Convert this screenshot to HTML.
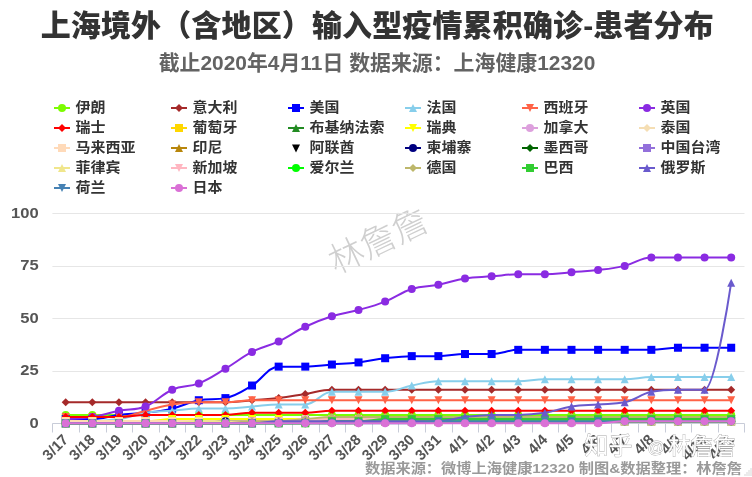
<!DOCTYPE html>
<html><head><meta charset="utf-8"><title>上海境外输入型疫情累积确诊-患者分布</title>
<style>
html,body{margin:0;padding:0;background:#fff;}
body{width:752px;height:477px;overflow:hidden;position:relative;font-family:"Liberation Sans", "Noto Sans CJK SC", sans-serif;}
svg{position:absolute;left:0;top:0;}
svg text{font-family:"Liberation Sans", "Noto Sans CJK SC", sans-serif;}
</style></head><body>
<svg width="752" height="477" viewBox="0 0 752 477">
<rect x="0" y="0" width="752" height="477" fill="#ffffff"/>

<text x="377.2" y="36" text-anchor="middle" font-size="30" font-weight="900" fill="#333333" textLength="673" lengthAdjust="spacing">上海境外（含地区）输入型疫情累积确诊-患者分布</text>
<text x="377" y="70" text-anchor="middle" font-size="20.9" font-weight="bold" fill="#636363">截止2020年4月11日 数据来源：上海健康12320</text>
<path d="M 54 108 L 70 108" stroke="#7CFC00" stroke-width="2"/>
<circle cx="62.00" cy="108.00" r="4" fill="#7CFC00"/>
<text transform="translate(75.6,112.3) scale(1.07,1)" font-size="14" font-weight="bold" fill="#333333">伊朗</text>
<path d="M 171 108 L 187 108" stroke="#A52A2A" stroke-width="2"/>
<path d="M 179.00 104.00 L 183.00 108.00 L 179.00 112.00 L 175.00 108.00 Z" fill="#A52A2A"/>
<text transform="translate(192.6,112.3) scale(1.07,1)" font-size="14" font-weight="bold" fill="#333333">意大利</text>
<path d="M 288 108 L 304 108" stroke="#0000FF" stroke-width="2"/>
<rect x="292.00" y="104.00" width="8" height="8" fill="#0000FF"/>
<text transform="translate(309.6,112.3) scale(1.07,1)" font-size="14" font-weight="bold" fill="#333333">美国</text>
<path d="M 405 108 L 421 108" stroke="#87CEEB" stroke-width="2"/>
<path d="M 413.00 104.00 L 417.00 112.00 L 409.00 112.00 Z" fill="#87CEEB"/>
<text transform="translate(426.6,112.3) scale(1.07,1)" font-size="14" font-weight="bold" fill="#333333">法国</text>
<path d="M 522 108 L 538 108" stroke="#FF6347" stroke-width="2"/>
<path d="M 526.00 104.00 L 534.00 104.00 L 530.00 112.00 Z" fill="#FF6347"/>
<text transform="translate(543.6,112.3) scale(1.07,1)" font-size="14" font-weight="bold" fill="#333333">西班牙</text>
<path d="M 639 108 L 655 108" stroke="#8A2BE2" stroke-width="2"/>
<circle cx="647.00" cy="108.00" r="4" fill="#8A2BE2"/>
<text transform="translate(660.6,112.3) scale(1.07,1)" font-size="14" font-weight="bold" fill="#333333">英国</text>
<path d="M 54 128 L 70 128" stroke="#FF0000" stroke-width="2"/>
<path d="M 62.00 124.00 L 66.00 128.00 L 62.00 132.00 L 58.00 128.00 Z" fill="#FF0000"/>
<text transform="translate(75.6,132.3) scale(1.07,1)" font-size="14" font-weight="bold" fill="#333333">瑞士</text>
<path d="M 171 128 L 187 128" stroke="#FFD700" stroke-width="2"/>
<rect x="175.00" y="124.00" width="8" height="8" fill="#FFD700"/>
<text transform="translate(192.6,132.3) scale(1.07,1)" font-size="14" font-weight="bold" fill="#333333">葡萄牙</text>
<path d="M 288 128 L 304 128" stroke="#228B22" stroke-width="2"/>
<path d="M 296.00 124.00 L 300.00 132.00 L 292.00 132.00 Z" fill="#228B22"/>
<text transform="translate(309.6,132.3) scale(1.07,1)" font-size="14" font-weight="bold" fill="#333333">布基纳法索</text>
<path d="M 405 128 L 421 128" stroke="#FFFF00" stroke-width="2"/>
<path d="M 409.00 124.00 L 417.00 124.00 L 413.00 132.00 Z" fill="#FFFF00"/>
<text transform="translate(426.6,132.3) scale(1.07,1)" font-size="14" font-weight="bold" fill="#333333">瑞典</text>
<path d="M 522 128 L 538 128" stroke="#DDA0DD" stroke-width="2"/>
<circle cx="530.00" cy="128.00" r="4" fill="#DDA0DD"/>
<text transform="translate(543.6,132.3) scale(1.07,1)" font-size="14" font-weight="bold" fill="#333333">加拿大</text>
<path d="M 639 128 L 655 128" stroke="#F5DEB3" stroke-width="2"/>
<path d="M 647.00 124.00 L 651.00 128.00 L 647.00 132.00 L 643.00 128.00 Z" fill="#F5DEB3"/>
<text transform="translate(660.6,132.3) scale(1.07,1)" font-size="14" font-weight="bold" fill="#333333">泰国</text>
<path d="M 54 148 L 70 148" stroke="#FFDAB9" stroke-width="2"/>
<rect x="58.00" y="144.00" width="8" height="8" fill="#FFDAB9"/>
<text transform="translate(75.6,152.3) scale(1.07,1)" font-size="14" font-weight="bold" fill="#333333">马来西亚</text>
<path d="M 171 148 L 187 148" stroke="#B8860B" stroke-width="2"/>
<path d="M 179.00 144.00 L 183.00 152.00 L 175.00 152.00 Z" fill="#B8860B"/>
<text transform="translate(192.6,152.3) scale(1.07,1)" font-size="14" font-weight="bold" fill="#333333">印尼</text>
<path d="M 292.00 144.50 L 300.00 144.50 L 296.00 152.50 Z" fill="#000000"/>
<text transform="translate(309.6,152.3) scale(1.07,1)" font-size="14" font-weight="bold" fill="#333333">阿联酋</text>
<path d="M 405 148 L 421 148" stroke="#000080" stroke-width="2"/>
<circle cx="413.00" cy="148.00" r="4" fill="#000080"/>
<text transform="translate(426.6,152.3) scale(1.07,1)" font-size="14" font-weight="bold" fill="#333333">柬埔寨</text>
<path d="M 522 148 L 538 148" stroke="#006400" stroke-width="2"/>
<path d="M 530.00 144.00 L 534.00 148.00 L 530.00 152.00 L 526.00 148.00 Z" fill="#006400"/>
<text transform="translate(543.6,152.3) scale(1.07,1)" font-size="14" font-weight="bold" fill="#333333">墨西哥</text>
<path d="M 639 148 L 655 148" stroke="#9370DB" stroke-width="2"/>
<rect x="643.00" y="144.00" width="8" height="8" fill="#9370DB"/>
<text transform="translate(660.6,152.3) scale(1.07,1)" font-size="14" font-weight="bold" fill="#333333">中国台湾</text>
<path d="M 54 168 L 70 168" stroke="#F0E68C" stroke-width="2"/>
<path d="M 62.00 164.00 L 66.00 172.00 L 58.00 172.00 Z" fill="#F0E68C"/>
<text transform="translate(75.6,172.3) scale(1.07,1)" font-size="14" font-weight="bold" fill="#333333">菲律宾</text>
<path d="M 171 168 L 187 168" stroke="#FFB6C1" stroke-width="2"/>
<path d="M 175.00 164.00 L 183.00 164.00 L 179.00 172.00 Z" fill="#FFB6C1"/>
<text transform="translate(192.6,172.3) scale(1.07,1)" font-size="14" font-weight="bold" fill="#333333">新加坡</text>
<path d="M 288 168 L 304 168" stroke="#00FF00" stroke-width="2"/>
<circle cx="296.00" cy="168.00" r="4" fill="#00FF00"/>
<text transform="translate(309.6,172.3) scale(1.07,1)" font-size="14" font-weight="bold" fill="#333333">爱尔兰</text>
<path d="M 405 168 L 421 168" stroke="#BDB76B" stroke-width="2"/>
<path d="M 413.00 164.00 L 417.00 168.00 L 413.00 172.00 L 409.00 168.00 Z" fill="#BDB76B"/>
<text transform="translate(426.6,172.3) scale(1.07,1)" font-size="14" font-weight="bold" fill="#333333">德国</text>
<path d="M 522 168 L 538 168" stroke="#32CD32" stroke-width="2"/>
<rect x="526.00" y="164.00" width="8" height="8" fill="#32CD32"/>
<text transform="translate(543.6,172.3) scale(1.07,1)" font-size="14" font-weight="bold" fill="#333333">巴西</text>
<path d="M 639 168 L 655 168" stroke="#6A5ACD" stroke-width="2"/>
<path d="M 647.00 164.00 L 651.00 172.00 L 643.00 172.00 Z" fill="#6A5ACD"/>
<text transform="translate(660.6,172.3) scale(1.07,1)" font-size="14" font-weight="bold" fill="#333333">俄罗斯</text>
<path d="M 54 188 L 70 188" stroke="#4682B4" stroke-width="2"/>
<path d="M 58.00 184.00 L 66.00 184.00 L 62.00 192.00 Z" fill="#4682B4"/>
<text transform="translate(75.6,192.3) scale(1.07,1)" font-size="14" font-weight="bold" fill="#333333">荷兰</text>
<path d="M 171 188 L 187 188" stroke="#DA70D6" stroke-width="2"/>
<circle cx="179.00" cy="188.00" r="4" fill="#DA70D6"/>
<text transform="translate(192.6,192.3) scale(1.07,1)" font-size="14" font-weight="bold" fill="#333333">日本</text>
<text x="0" y="0" font-size="35" font-weight="300" fill="#cfcfcf" transform="translate(336,274.5) rotate(-25.5)">林詹詹</text>
<path d="M 52.4 371.5 L 744.5 371.5" stroke="#e6e6e6" stroke-width="1"/>
<path d="M 52.4 318.5 L 744.5 318.5" stroke="#e6e6e6" stroke-width="1"/>
<path d="M 52.4 266.5 L 744.5 266.5" stroke="#e6e6e6" stroke-width="1"/>
<path d="M 52.4 213.5 L 744.5 213.5" stroke="#e6e6e6" stroke-width="1"/>
<text transform="translate(38.6,427.8) scale(1.09,1)" text-anchor="end" font-size="15.2" font-weight="bold" fill="#555555">0</text>
<text transform="translate(38.6,375.3) scale(1.09,1)" text-anchor="end" font-size="15.2" font-weight="bold" fill="#555555">25</text>
<text transform="translate(38.6,322.9) scale(1.09,1)" text-anchor="end" font-size="15.2" font-weight="bold" fill="#555555">50</text>
<text transform="translate(38.6,270.4) scale(1.09,1)" text-anchor="end" font-size="15.2" font-weight="bold" fill="#555555">75</text>
<text transform="translate(38.6,217.9) scale(1.09,1)" text-anchor="end" font-size="15.2" font-weight="bold" fill="#555555">100</text>
<path d="M 52.4 423.5 L 744.5 423.5" stroke="#c8ccd8" stroke-width="1"/>
<path d="M 52.5 423.5 L 52.5 432.5" stroke="#c8ccd8" stroke-width="1"/>
<path d="M 79.5 423.5 L 79.5 432.5" stroke="#c8ccd8" stroke-width="1"/>
<path d="M 106.5 423.5 L 106.5 432.5" stroke="#c8ccd8" stroke-width="1"/>
<path d="M 132.5 423.5 L 132.5 432.5" stroke="#c8ccd8" stroke-width="1"/>
<path d="M 159.5 423.5 L 159.5 432.5" stroke="#c8ccd8" stroke-width="1"/>
<path d="M 185.5 423.5 L 185.5 432.5" stroke="#c8ccd8" stroke-width="1"/>
<path d="M 212.5 423.5 L 212.5 432.5" stroke="#c8ccd8" stroke-width="1"/>
<path d="M 239.5 423.5 L 239.5 432.5" stroke="#c8ccd8" stroke-width="1"/>
<path d="M 265.5 423.5 L 265.5 432.5" stroke="#c8ccd8" stroke-width="1"/>
<path d="M 292.5 423.5 L 292.5 432.5" stroke="#c8ccd8" stroke-width="1"/>
<path d="M 319.5 423.5 L 319.5 432.5" stroke="#c8ccd8" stroke-width="1"/>
<path d="M 345.5 423.5 L 345.5 432.5" stroke="#c8ccd8" stroke-width="1"/>
<path d="M 372.5 423.5 L 372.5 432.5" stroke="#c8ccd8" stroke-width="1"/>
<path d="M 398.5 423.5 L 398.5 432.5" stroke="#c8ccd8" stroke-width="1"/>
<path d="M 425.5 423.5 L 425.5 432.5" stroke="#c8ccd8" stroke-width="1"/>
<path d="M 452.5 423.5 L 452.5 432.5" stroke="#c8ccd8" stroke-width="1"/>
<path d="M 478.5 423.5 L 478.5 432.5" stroke="#c8ccd8" stroke-width="1"/>
<path d="M 505.5 423.5 L 505.5 432.5" stroke="#c8ccd8" stroke-width="1"/>
<path d="M 532.5 423.5 L 532.5 432.5" stroke="#c8ccd8" stroke-width="1"/>
<path d="M 558.5 423.5 L 558.5 432.5" stroke="#c8ccd8" stroke-width="1"/>
<path d="M 585.5 423.5 L 585.5 432.5" stroke="#c8ccd8" stroke-width="1"/>
<path d="M 611.5 423.5 L 611.5 432.5" stroke="#c8ccd8" stroke-width="1"/>
<path d="M 638.5 423.5 L 638.5 432.5" stroke="#c8ccd8" stroke-width="1"/>
<path d="M 665.5 423.5 L 665.5 432.5" stroke="#c8ccd8" stroke-width="1"/>
<path d="M 691.5 423.5 L 691.5 432.5" stroke="#c8ccd8" stroke-width="1"/>
<path d="M 718.5 423.5 L 718.5 432.5" stroke="#c8ccd8" stroke-width="1"/>
<path d="M 744.5 423.5 L 744.5 432.5" stroke="#c8ccd8" stroke-width="1"/>
<text x="69.2" y="440.5" text-anchor="end" font-size="15" font-weight="bold" fill="#555555" transform="rotate(-45 69.2 440.5)">3/17</text>
<text x="95.8" y="440.5" text-anchor="end" font-size="15" font-weight="bold" fill="#555555" transform="rotate(-45 95.8 440.5)">3/18</text>
<text x="122.4" y="440.5" text-anchor="end" font-size="15" font-weight="bold" fill="#555555" transform="rotate(-45 122.4 440.5)">3/19</text>
<text x="149.1" y="440.5" text-anchor="end" font-size="15" font-weight="bold" fill="#555555" transform="rotate(-45 149.1 440.5)">3/20</text>
<text x="175.7" y="440.5" text-anchor="end" font-size="15" font-weight="bold" fill="#555555" transform="rotate(-45 175.7 440.5)">3/21</text>
<text x="202.3" y="440.5" text-anchor="end" font-size="15" font-weight="bold" fill="#555555" transform="rotate(-45 202.3 440.5)">3/22</text>
<text x="228.9" y="440.5" text-anchor="end" font-size="15" font-weight="bold" fill="#555555" transform="rotate(-45 228.9 440.5)">3/23</text>
<text x="255.5" y="440.5" text-anchor="end" font-size="15" font-weight="bold" fill="#555555" transform="rotate(-45 255.5 440.5)">3/24</text>
<text x="282.2" y="440.5" text-anchor="end" font-size="15" font-weight="bold" fill="#555555" transform="rotate(-45 282.2 440.5)">3/25</text>
<text x="308.8" y="440.5" text-anchor="end" font-size="15" font-weight="bold" fill="#555555" transform="rotate(-45 308.8 440.5)">3/26</text>
<text x="335.4" y="440.5" text-anchor="end" font-size="15" font-weight="bold" fill="#555555" transform="rotate(-45 335.4 440.5)">3/27</text>
<text x="362.0" y="440.5" text-anchor="end" font-size="15" font-weight="bold" fill="#555555" transform="rotate(-45 362.0 440.5)">3/28</text>
<text x="388.6" y="440.5" text-anchor="end" font-size="15" font-weight="bold" fill="#555555" transform="rotate(-45 388.6 440.5)">3/29</text>
<text x="415.3" y="440.5" text-anchor="end" font-size="15" font-weight="bold" fill="#555555" transform="rotate(-45 415.3 440.5)">3/30</text>
<text x="441.9" y="440.5" text-anchor="end" font-size="15" font-weight="bold" fill="#555555" transform="rotate(-45 441.9 440.5)">3/31</text>
<text x="468.5" y="440.5" text-anchor="end" font-size="15" font-weight="bold" fill="#555555" transform="rotate(-45 468.5 440.5)">4/1</text>
<text x="495.1" y="440.5" text-anchor="end" font-size="15" font-weight="bold" fill="#555555" transform="rotate(-45 495.1 440.5)">4/2</text>
<text x="521.7" y="440.5" text-anchor="end" font-size="15" font-weight="bold" fill="#555555" transform="rotate(-45 521.7 440.5)">4/3</text>
<text x="548.4" y="440.5" text-anchor="end" font-size="15" font-weight="bold" fill="#555555" transform="rotate(-45 548.4 440.5)">4/4</text>
<text x="575.0" y="440.5" text-anchor="end" font-size="15" font-weight="bold" fill="#555555" transform="rotate(-45 575.0 440.5)">4/5</text>
<text x="601.6" y="440.5" text-anchor="end" font-size="15" font-weight="bold" fill="#555555" transform="rotate(-45 601.6 440.5)">4/6</text>
<text x="628.2" y="440.5" text-anchor="end" font-size="15" font-weight="bold" fill="#555555" transform="rotate(-45 628.2 440.5)">4/7</text>
<text x="654.8" y="440.5" text-anchor="end" font-size="15" font-weight="bold" fill="#555555" transform="rotate(-45 654.8 440.5)">4/8</text>
<text x="681.5" y="440.5" text-anchor="end" font-size="15" font-weight="bold" fill="#555555" transform="rotate(-45 681.5 440.5)">4/9</text>
<text x="708.1" y="440.5" text-anchor="end" font-size="15" font-weight="bold" fill="#555555" transform="rotate(-45 708.1 440.5)">4/10</text>
<text x="734.7" y="440.5" text-anchor="end" font-size="15" font-weight="bold" fill="#555555" transform="rotate(-45 734.7 440.5)">4/11</text>
<g><path d="M 65.71 414.90 C 65.71 414.90 81.68 414.90 92.33 414.90 C 102.98 414.90 108.30 414.90 118.95 414.90 C 129.60 414.90 134.92 414.90 145.57 414.90 C 156.22 414.90 161.54 414.90 172.19 414.90 C 182.83 414.90 188.16 414.90 198.81 414.90 C 209.45 414.90 214.78 414.90 225.43 414.90 C 236.07 414.90 241.40 414.90 252.04 414.90 C 262.69 414.90 268.02 414.90 278.66 414.90 C 289.31 414.90 294.64 414.90 305.28 414.90 C 315.93 414.90 321.25 414.90 331.90 414.90 C 342.55 414.90 347.87 414.90 358.52 414.90 C 369.17 414.90 374.49 414.90 385.14 414.90 C 395.79 414.90 401.11 414.90 411.76 414.90 C 422.41 414.90 427.73 414.90 438.38 414.90 C 449.03 414.90 454.35 414.90 465.00 414.90 C 475.65 414.90 480.97 414.90 491.62 414.90 C 502.26 414.90 507.59 414.90 518.24 414.90 C 528.88 414.90 534.21 414.90 544.86 414.90 C 555.50 414.90 560.83 414.90 571.48 414.90 C 582.12 414.90 587.45 414.90 598.09 414.90 C 608.74 414.90 614.07 414.90 624.71 414.90 C 635.36 414.90 640.69 414.90 651.33 414.90 C 661.98 414.90 667.30 414.90 677.95 414.90 C 688.60 414.90 693.92 414.90 704.57 414.90 C 715.22 414.90 731.19 414.90 731.19 414.90" fill="none" stroke="#7CFC00" stroke-width="2" stroke-linejoin="round" stroke-linecap="round"/>
<circle cx="65.71" cy="414.90" r="4" fill="#7CFC00"/>
<circle cx="92.33" cy="414.90" r="4" fill="#7CFC00"/>
<circle cx="118.95" cy="414.90" r="4" fill="#7CFC00"/>
<circle cx="145.57" cy="414.90" r="4" fill="#7CFC00"/>
<circle cx="172.19" cy="414.90" r="4" fill="#7CFC00"/>
<circle cx="198.81" cy="414.90" r="4" fill="#7CFC00"/>
<circle cx="225.43" cy="414.90" r="4" fill="#7CFC00"/>
<circle cx="252.04" cy="414.90" r="4" fill="#7CFC00"/>
<circle cx="278.66" cy="414.90" r="4" fill="#7CFC00"/>
<circle cx="305.28" cy="414.90" r="4" fill="#7CFC00"/>
<circle cx="331.90" cy="414.90" r="4" fill="#7CFC00"/>
<circle cx="358.52" cy="414.90" r="4" fill="#7CFC00"/>
<circle cx="385.14" cy="414.90" r="4" fill="#7CFC00"/>
<circle cx="411.76" cy="414.90" r="4" fill="#7CFC00"/>
<circle cx="438.38" cy="414.90" r="4" fill="#7CFC00"/>
<circle cx="465.00" cy="414.90" r="4" fill="#7CFC00"/>
<circle cx="491.62" cy="414.90" r="4" fill="#7CFC00"/>
<circle cx="518.24" cy="414.90" r="4" fill="#7CFC00"/>
<circle cx="544.86" cy="414.90" r="4" fill="#7CFC00"/>
<circle cx="571.48" cy="414.90" r="4" fill="#7CFC00"/>
<circle cx="598.09" cy="414.90" r="4" fill="#7CFC00"/>
<circle cx="624.71" cy="414.90" r="4" fill="#7CFC00"/>
<circle cx="651.33" cy="414.90" r="4" fill="#7CFC00"/>
<circle cx="677.95" cy="414.90" r="4" fill="#7CFC00"/>
<circle cx="704.57" cy="414.90" r="4" fill="#7CFC00"/>
<circle cx="731.19" cy="414.90" r="4" fill="#7CFC00"/>
</g>
<g><path d="M 65.71 402.31 C 65.71 402.31 81.68 402.31 92.33 402.31 C 102.98 402.31 108.30 402.31 118.95 402.31 C 129.60 402.31 134.92 402.31 145.57 402.31 C 156.22 402.31 161.54 402.31 172.19 402.31 C 182.83 402.31 188.16 402.31 198.81 402.31 C 209.45 402.31 214.78 402.31 225.43 402.31 C 236.07 402.31 241.40 401.05 252.04 400.21 C 262.69 399.37 268.02 399.37 278.66 398.11 C 289.31 396.85 294.64 395.59 305.28 393.91 C 315.93 392.23 321.25 389.72 331.90 389.72 C 342.55 389.72 347.87 389.72 358.52 389.72 C 369.17 389.72 374.49 389.72 385.14 389.72 C 395.79 389.72 401.11 389.72 411.76 389.72 C 422.41 389.72 427.73 389.72 438.38 389.72 C 449.03 389.72 454.35 389.72 465.00 389.72 C 475.65 389.72 480.97 389.72 491.62 389.72 C 502.26 389.72 507.59 389.72 518.24 389.72 C 528.88 389.72 534.21 389.72 544.86 389.72 C 555.50 389.72 560.83 389.72 571.48 389.72 C 582.12 389.72 587.45 389.72 598.09 389.72 C 608.74 389.72 614.07 389.72 624.71 389.72 C 635.36 389.72 640.69 389.72 651.33 389.72 C 661.98 389.72 667.30 389.72 677.95 389.72 C 688.60 389.72 693.92 389.72 704.57 389.72 C 715.22 389.72 731.19 389.72 731.19 389.72" fill="none" stroke="#A52A2A" stroke-width="2" stroke-linejoin="round" stroke-linecap="round"/>
<path d="M 65.71 398.31 L 69.71 402.31 L 65.71 406.31 L 61.71 402.31 Z" fill="#A52A2A"/>
<path d="M 92.33 398.31 L 96.33 402.31 L 92.33 406.31 L 88.33 402.31 Z" fill="#A52A2A"/>
<path d="M 118.95 398.31 L 122.95 402.31 L 118.95 406.31 L 114.95 402.31 Z" fill="#A52A2A"/>
<path d="M 145.57 398.31 L 149.57 402.31 L 145.57 406.31 L 141.57 402.31 Z" fill="#A52A2A"/>
<path d="M 172.19 398.31 L 176.19 402.31 L 172.19 406.31 L 168.19 402.31 Z" fill="#A52A2A"/>
<path d="M 198.81 398.31 L 202.81 402.31 L 198.81 406.31 L 194.81 402.31 Z" fill="#A52A2A"/>
<path d="M 225.43 398.31 L 229.43 402.31 L 225.43 406.31 L 221.43 402.31 Z" fill="#A52A2A"/>
<path d="M 252.04 396.21 L 256.04 400.21 L 252.04 404.21 L 248.04 400.21 Z" fill="#A52A2A"/>
<path d="M 278.66 394.11 L 282.66 398.11 L 278.66 402.11 L 274.66 398.11 Z" fill="#A52A2A"/>
<path d="M 305.28 389.91 L 309.28 393.91 L 305.28 397.91 L 301.28 393.91 Z" fill="#A52A2A"/>
<path d="M 331.90 385.72 L 335.90 389.72 L 331.90 393.72 L 327.90 389.72 Z" fill="#A52A2A"/>
<path d="M 358.52 385.72 L 362.52 389.72 L 358.52 393.72 L 354.52 389.72 Z" fill="#A52A2A"/>
<path d="M 385.14 385.72 L 389.14 389.72 L 385.14 393.72 L 381.14 389.72 Z" fill="#A52A2A"/>
<path d="M 411.76 385.72 L 415.76 389.72 L 411.76 393.72 L 407.76 389.72 Z" fill="#A52A2A"/>
<path d="M 438.38 385.72 L 442.38 389.72 L 438.38 393.72 L 434.38 389.72 Z" fill="#A52A2A"/>
<path d="M 465.00 385.72 L 469.00 389.72 L 465.00 393.72 L 461.00 389.72 Z" fill="#A52A2A"/>
<path d="M 491.62 385.72 L 495.62 389.72 L 491.62 393.72 L 487.62 389.72 Z" fill="#A52A2A"/>
<path d="M 518.24 385.72 L 522.24 389.72 L 518.24 393.72 L 514.24 389.72 Z" fill="#A52A2A"/>
<path d="M 544.86 385.72 L 548.86 389.72 L 544.86 393.72 L 540.86 389.72 Z" fill="#A52A2A"/>
<path d="M 571.48 385.72 L 575.48 389.72 L 571.48 393.72 L 567.48 389.72 Z" fill="#A52A2A"/>
<path d="M 598.09 385.72 L 602.09 389.72 L 598.09 393.72 L 594.09 389.72 Z" fill="#A52A2A"/>
<path d="M 624.71 385.72 L 628.71 389.72 L 624.71 393.72 L 620.71 389.72 Z" fill="#A52A2A"/>
<path d="M 651.33 385.72 L 655.33 389.72 L 651.33 393.72 L 647.33 389.72 Z" fill="#A52A2A"/>
<path d="M 677.95 385.72 L 681.95 389.72 L 677.95 393.72 L 673.95 389.72 Z" fill="#A52A2A"/>
<path d="M 704.57 385.72 L 708.57 389.72 L 704.57 393.72 L 700.57 389.72 Z" fill="#A52A2A"/>
<path d="M 731.19 385.72 L 735.19 389.72 L 731.19 393.72 L 727.19 389.72 Z" fill="#A52A2A"/>
</g>
<g><path d="M 65.71 419.10 C 65.71 419.10 81.68 419.10 92.33 419.10 C 102.98 419.10 108.30 416.16 118.95 414.90 C 129.60 413.64 134.92 414.06 145.57 412.81 C 156.22 411.55 161.54 411.13 172.19 408.61 C 182.83 406.09 188.16 402.31 198.81 400.21 C 209.45 398.11 214.78 400.21 225.43 398.11 C 236.07 396.01 241.40 391.82 252.04 385.52 C 262.69 379.22 268.02 366.63 278.66 366.63 C 289.31 366.63 294.64 366.63 305.28 366.63 C 315.93 366.63 321.25 365.37 331.90 364.53 C 342.55 363.69 347.87 363.69 358.52 362.43 C 369.17 361.17 374.49 359.49 385.14 358.23 C 395.79 356.97 401.11 356.13 411.76 356.13 C 422.41 356.13 427.73 356.13 438.38 356.13 C 449.03 356.13 454.35 354.03 465.00 354.03 C 475.65 354.03 480.97 354.03 491.62 354.03 C 502.26 354.03 507.59 349.84 518.24 349.84 C 528.88 349.84 534.21 349.84 544.86 349.84 C 555.50 349.84 560.83 349.84 571.48 349.84 C 582.12 349.84 587.45 349.84 598.09 349.84 C 608.74 349.84 614.07 349.84 624.71 349.84 C 635.36 349.84 640.69 349.84 651.33 349.84 C 661.98 349.84 667.30 347.74 677.95 347.74 C 688.60 347.74 693.92 347.74 704.57 347.74 C 715.22 347.74 731.19 347.74 731.19 347.74" fill="none" stroke="#0000FF" stroke-width="2" stroke-linejoin="round" stroke-linecap="round"/>
<rect x="61.71" y="415.10" width="8" height="8" fill="#0000FF"/>
<rect x="88.33" y="415.10" width="8" height="8" fill="#0000FF"/>
<rect x="114.95" y="410.90" width="8" height="8" fill="#0000FF"/>
<rect x="141.57" y="408.81" width="8" height="8" fill="#0000FF"/>
<rect x="168.19" y="404.61" width="8" height="8" fill="#0000FF"/>
<rect x="194.81" y="396.21" width="8" height="8" fill="#0000FF"/>
<rect x="221.43" y="394.11" width="8" height="8" fill="#0000FF"/>
<rect x="248.04" y="381.52" width="8" height="8" fill="#0000FF"/>
<rect x="274.66" y="362.63" width="8" height="8" fill="#0000FF"/>
<rect x="301.28" y="362.63" width="8" height="8" fill="#0000FF"/>
<rect x="327.90" y="360.53" width="8" height="8" fill="#0000FF"/>
<rect x="354.52" y="358.43" width="8" height="8" fill="#0000FF"/>
<rect x="381.14" y="354.23" width="8" height="8" fill="#0000FF"/>
<rect x="407.76" y="352.13" width="8" height="8" fill="#0000FF"/>
<rect x="434.38" y="352.13" width="8" height="8" fill="#0000FF"/>
<rect x="461.00" y="350.03" width="8" height="8" fill="#0000FF"/>
<rect x="487.62" y="350.03" width="8" height="8" fill="#0000FF"/>
<rect x="514.24" y="345.84" width="8" height="8" fill="#0000FF"/>
<rect x="540.86" y="345.84" width="8" height="8" fill="#0000FF"/>
<rect x="567.48" y="345.84" width="8" height="8" fill="#0000FF"/>
<rect x="594.09" y="345.84" width="8" height="8" fill="#0000FF"/>
<rect x="620.71" y="345.84" width="8" height="8" fill="#0000FF"/>
<rect x="647.33" y="345.84" width="8" height="8" fill="#0000FF"/>
<rect x="673.95" y="343.74" width="8" height="8" fill="#0000FF"/>
<rect x="700.57" y="343.74" width="8" height="8" fill="#0000FF"/>
<rect x="727.19" y="343.74" width="8" height="8" fill="#0000FF"/>
</g>
<g><path d="M 65.71 421.20 C 65.71 421.20 81.68 421.20 92.33 421.20 C 102.98 421.20 108.30 420.78 118.95 419.10 C 129.60 417.42 134.92 414.48 145.57 412.81 C 156.22 411.13 161.54 411.55 172.19 410.71 C 182.83 409.87 188.16 408.61 198.81 408.61 C 209.45 408.61 214.78 408.61 225.43 408.61 C 236.07 408.61 241.40 407.35 252.04 406.51 C 262.69 405.67 268.02 404.41 278.66 404.41 C 289.31 404.41 294.64 404.41 305.28 404.41 C 315.93 404.41 321.25 391.81 331.90 391.81 C 342.55 391.81 347.87 391.81 358.52 391.81 C 369.17 391.81 374.49 391.81 385.14 391.81 C 395.79 391.81 401.11 387.62 411.76 385.52 C 422.41 383.42 427.73 381.32 438.38 381.32 C 449.03 381.32 454.35 381.32 465.00 381.32 C 475.65 381.32 480.97 381.32 491.62 381.32 C 502.26 381.32 507.59 381.32 518.24 381.32 C 528.88 381.32 534.21 379.22 544.86 379.22 C 555.50 379.22 560.83 379.22 571.48 379.22 C 582.12 379.22 587.45 379.22 598.09 379.22 C 608.74 379.22 614.07 379.22 624.71 379.22 C 635.36 379.22 640.69 377.12 651.33 377.12 C 661.98 377.12 667.30 377.12 677.95 377.12 C 688.60 377.12 693.92 377.12 704.57 377.12 C 715.22 377.12 731.19 377.12 731.19 377.12" fill="none" stroke="#87CEEB" stroke-width="2" stroke-linejoin="round" stroke-linecap="round"/>
<path d="M 65.71 417.20 L 69.71 425.20 L 61.71 425.20 Z" fill="#87CEEB"/>
<path d="M 92.33 417.20 L 96.33 425.20 L 88.33 425.20 Z" fill="#87CEEB"/>
<path d="M 118.95 415.10 L 122.95 423.10 L 114.95 423.10 Z" fill="#87CEEB"/>
<path d="M 145.57 408.81 L 149.57 416.81 L 141.57 416.81 Z" fill="#87CEEB"/>
<path d="M 172.19 406.71 L 176.19 414.71 L 168.19 414.71 Z" fill="#87CEEB"/>
<path d="M 198.81 404.61 L 202.81 412.61 L 194.81 412.61 Z" fill="#87CEEB"/>
<path d="M 225.43 404.61 L 229.43 412.61 L 221.43 412.61 Z" fill="#87CEEB"/>
<path d="M 252.04 402.51 L 256.04 410.51 L 248.04 410.51 Z" fill="#87CEEB"/>
<path d="M 278.66 400.41 L 282.66 408.41 L 274.66 408.41 Z" fill="#87CEEB"/>
<path d="M 305.28 400.41 L 309.28 408.41 L 301.28 408.41 Z" fill="#87CEEB"/>
<path d="M 331.90 387.81 L 335.90 395.81 L 327.90 395.81 Z" fill="#87CEEB"/>
<path d="M 358.52 387.81 L 362.52 395.81 L 354.52 395.81 Z" fill="#87CEEB"/>
<path d="M 385.14 387.81 L 389.14 395.81 L 381.14 395.81 Z" fill="#87CEEB"/>
<path d="M 411.76 381.52 L 415.76 389.52 L 407.76 389.52 Z" fill="#87CEEB"/>
<path d="M 438.38 377.32 L 442.38 385.32 L 434.38 385.32 Z" fill="#87CEEB"/>
<path d="M 465.00 377.32 L 469.00 385.32 L 461.00 385.32 Z" fill="#87CEEB"/>
<path d="M 491.62 377.32 L 495.62 385.32 L 487.62 385.32 Z" fill="#87CEEB"/>
<path d="M 518.24 377.32 L 522.24 385.32 L 514.24 385.32 Z" fill="#87CEEB"/>
<path d="M 544.86 375.22 L 548.86 383.22 L 540.86 383.22 Z" fill="#87CEEB"/>
<path d="M 571.48 375.22 L 575.48 383.22 L 567.48 383.22 Z" fill="#87CEEB"/>
<path d="M 598.09 375.22 L 602.09 383.22 L 594.09 383.22 Z" fill="#87CEEB"/>
<path d="M 624.71 375.22 L 628.71 383.22 L 620.71 383.22 Z" fill="#87CEEB"/>
<path d="M 651.33 373.12 L 655.33 381.12 L 647.33 381.12 Z" fill="#87CEEB"/>
<path d="M 677.95 373.12 L 681.95 381.12 L 673.95 381.12 Z" fill="#87CEEB"/>
<path d="M 704.57 373.12 L 708.57 381.12 L 700.57 381.12 Z" fill="#87CEEB"/>
<path d="M 731.19 373.12 L 735.19 381.12 L 727.19 381.12 Z" fill="#87CEEB"/>
</g>
<g><path d="M 65.71 417.00 C 65.71 417.00 81.68 417.00 92.33 417.00 C 102.98 417.00 108.30 417.00 118.95 417.00 C 129.60 417.00 134.92 413.22 145.57 410.71 C 156.22 408.19 161.54 406.09 172.19 404.41 C 182.83 402.73 188.16 402.31 198.81 402.31 C 209.45 402.31 214.78 402.31 225.43 402.31 C 236.07 402.31 241.40 400.21 252.04 400.21 C 262.69 400.21 268.02 400.21 278.66 400.21 C 289.31 400.21 294.64 400.21 305.28 400.21 C 315.93 400.21 321.25 400.21 331.90 400.21 C 342.55 400.21 347.87 400.21 358.52 400.21 C 369.17 400.21 374.49 400.21 385.14 400.21 C 395.79 400.21 401.11 400.21 411.76 400.21 C 422.41 400.21 427.73 400.21 438.38 400.21 C 449.03 400.21 454.35 400.21 465.00 400.21 C 475.65 400.21 480.97 400.21 491.62 400.21 C 502.26 400.21 507.59 400.21 518.24 400.21 C 528.88 400.21 534.21 400.21 544.86 400.21 C 555.50 400.21 560.83 400.21 571.48 400.21 C 582.12 400.21 587.45 400.21 598.09 400.21 C 608.74 400.21 614.07 400.21 624.71 400.21 C 635.36 400.21 640.69 400.21 651.33 400.21 C 661.98 400.21 667.30 400.21 677.95 400.21 C 688.60 400.21 693.92 400.21 704.57 400.21 C 715.22 400.21 731.19 400.21 731.19 400.21" fill="none" stroke="#FF6347" stroke-width="2" stroke-linejoin="round" stroke-linecap="round"/>
<path d="M 61.71 413.00 L 69.71 413.00 L 65.71 421.00 Z" fill="#FF6347"/>
<path d="M 88.33 413.00 L 96.33 413.00 L 92.33 421.00 Z" fill="#FF6347"/>
<path d="M 114.95 413.00 L 122.95 413.00 L 118.95 421.00 Z" fill="#FF6347"/>
<path d="M 141.57 406.71 L 149.57 406.71 L 145.57 414.71 Z" fill="#FF6347"/>
<path d="M 168.19 400.41 L 176.19 400.41 L 172.19 408.41 Z" fill="#FF6347"/>
<path d="M 194.81 398.31 L 202.81 398.31 L 198.81 406.31 Z" fill="#FF6347"/>
<path d="M 221.43 398.31 L 229.43 398.31 L 225.43 406.31 Z" fill="#FF6347"/>
<path d="M 248.04 396.21 L 256.04 396.21 L 252.04 404.21 Z" fill="#FF6347"/>
<path d="M 274.66 396.21 L 282.66 396.21 L 278.66 404.21 Z" fill="#FF6347"/>
<path d="M 301.28 396.21 L 309.28 396.21 L 305.28 404.21 Z" fill="#FF6347"/>
<path d="M 327.90 396.21 L 335.90 396.21 L 331.90 404.21 Z" fill="#FF6347"/>
<path d="M 354.52 396.21 L 362.52 396.21 L 358.52 404.21 Z" fill="#FF6347"/>
<path d="M 381.14 396.21 L 389.14 396.21 L 385.14 404.21 Z" fill="#FF6347"/>
<path d="M 407.76 396.21 L 415.76 396.21 L 411.76 404.21 Z" fill="#FF6347"/>
<path d="M 434.38 396.21 L 442.38 396.21 L 438.38 404.21 Z" fill="#FF6347"/>
<path d="M 461.00 396.21 L 469.00 396.21 L 465.00 404.21 Z" fill="#FF6347"/>
<path d="M 487.62 396.21 L 495.62 396.21 L 491.62 404.21 Z" fill="#FF6347"/>
<path d="M 514.24 396.21 L 522.24 396.21 L 518.24 404.21 Z" fill="#FF6347"/>
<path d="M 540.86 396.21 L 548.86 396.21 L 544.86 404.21 Z" fill="#FF6347"/>
<path d="M 567.48 396.21 L 575.48 396.21 L 571.48 404.21 Z" fill="#FF6347"/>
<path d="M 594.09 396.21 L 602.09 396.21 L 598.09 404.21 Z" fill="#FF6347"/>
<path d="M 620.71 396.21 L 628.71 396.21 L 624.71 404.21 Z" fill="#FF6347"/>
<path d="M 647.33 396.21 L 655.33 396.21 L 651.33 404.21 Z" fill="#FF6347"/>
<path d="M 673.95 396.21 L 681.95 396.21 L 677.95 404.21 Z" fill="#FF6347"/>
<path d="M 700.57 396.21 L 708.57 396.21 L 704.57 404.21 Z" fill="#FF6347"/>
<path d="M 727.19 396.21 L 735.19 396.21 L 731.19 404.21 Z" fill="#FF6347"/>
</g>
<g><path d="M 65.71 419.10 C 65.71 419.10 81.68 418.68 92.33 417.00 C 102.98 415.32 108.30 412.81 118.95 410.71 C 129.60 408.61 134.92 410.71 145.57 406.51 C 156.22 402.31 161.54 394.33 172.19 389.72 C 182.83 385.10 188.16 387.62 198.81 383.42 C 209.45 379.22 214.78 375.02 225.43 368.73 C 236.07 362.43 241.40 357.39 252.04 351.93 C 262.69 346.48 268.02 346.48 278.66 341.44 C 289.31 336.40 294.64 331.78 305.28 326.75 C 315.93 321.71 321.25 319.61 331.90 316.25 C 342.55 312.89 347.87 312.89 358.52 309.95 C 369.17 307.02 374.49 305.76 385.14 301.56 C 395.79 297.36 401.11 292.32 411.76 288.96 C 422.41 285.61 427.73 286.86 438.38 284.77 C 449.03 282.67 454.35 280.15 465.00 278.47 C 475.65 276.79 480.97 277.21 491.62 276.37 C 502.26 275.53 507.59 274.27 518.24 274.27 C 528.88 274.27 534.21 274.27 544.86 274.27 C 555.50 274.27 560.83 273.01 571.48 272.17 C 582.12 271.33 587.45 271.33 598.09 270.07 C 608.74 268.81 614.07 268.39 624.71 265.88 C 635.36 263.36 640.69 257.48 651.33 257.48 C 661.98 257.48 667.30 257.48 677.95 257.48 C 688.60 257.48 693.92 257.48 704.57 257.48 C 715.22 257.48 731.19 257.48 731.19 257.48" fill="none" stroke="#8A2BE2" stroke-width="2" stroke-linejoin="round" stroke-linecap="round"/>
<circle cx="65.71" cy="419.10" r="4" fill="#8A2BE2"/>
<circle cx="92.33" cy="417.00" r="4" fill="#8A2BE2"/>
<circle cx="118.95" cy="410.71" r="4" fill="#8A2BE2"/>
<circle cx="145.57" cy="406.51" r="4" fill="#8A2BE2"/>
<circle cx="172.19" cy="389.72" r="4" fill="#8A2BE2"/>
<circle cx="198.81" cy="383.42" r="4" fill="#8A2BE2"/>
<circle cx="225.43" cy="368.73" r="4" fill="#8A2BE2"/>
<circle cx="252.04" cy="351.93" r="4" fill="#8A2BE2"/>
<circle cx="278.66" cy="341.44" r="4" fill="#8A2BE2"/>
<circle cx="305.28" cy="326.75" r="4" fill="#8A2BE2"/>
<circle cx="331.90" cy="316.25" r="4" fill="#8A2BE2"/>
<circle cx="358.52" cy="309.95" r="4" fill="#8A2BE2"/>
<circle cx="385.14" cy="301.56" r="4" fill="#8A2BE2"/>
<circle cx="411.76" cy="288.96" r="4" fill="#8A2BE2"/>
<circle cx="438.38" cy="284.77" r="4" fill="#8A2BE2"/>
<circle cx="465.00" cy="278.47" r="4" fill="#8A2BE2"/>
<circle cx="491.62" cy="276.37" r="4" fill="#8A2BE2"/>
<circle cx="518.24" cy="274.27" r="4" fill="#8A2BE2"/>
<circle cx="544.86" cy="274.27" r="4" fill="#8A2BE2"/>
<circle cx="571.48" cy="272.17" r="4" fill="#8A2BE2"/>
<circle cx="598.09" cy="270.07" r="4" fill="#8A2BE2"/>
<circle cx="624.71" cy="265.88" r="4" fill="#8A2BE2"/>
<circle cx="651.33" cy="257.48" r="4" fill="#8A2BE2"/>
<circle cx="677.95" cy="257.48" r="4" fill="#8A2BE2"/>
<circle cx="704.57" cy="257.48" r="4" fill="#8A2BE2"/>
<circle cx="731.19" cy="257.48" r="4" fill="#8A2BE2"/>
</g>
<g><path d="M 65.71 417.00 C 65.71 417.00 81.68 417.00 92.33 417.00 C 102.98 417.00 108.30 417.00 118.95 417.00 C 129.60 417.00 134.92 414.90 145.57 414.90 C 156.22 414.90 161.54 414.90 172.19 414.90 C 182.83 414.90 188.16 414.90 198.81 414.90 C 209.45 414.90 214.78 414.90 225.43 414.90 C 236.07 414.90 241.40 412.81 252.04 412.81 C 262.69 412.81 268.02 412.81 278.66 412.81 C 289.31 412.81 294.64 412.81 305.28 412.81 C 315.93 412.81 321.25 410.71 331.90 410.71 C 342.55 410.71 347.87 410.71 358.52 410.71 C 369.17 410.71 374.49 410.71 385.14 410.71 C 395.79 410.71 401.11 410.71 411.76 410.71 C 422.41 410.71 427.73 410.71 438.38 410.71 C 449.03 410.71 454.35 410.71 465.00 410.71 C 475.65 410.71 480.97 410.71 491.62 410.71 C 502.26 410.71 507.59 410.71 518.24 410.71 C 528.88 410.71 534.21 410.71 544.86 410.71 C 555.50 410.71 560.83 410.71 571.48 410.71 C 582.12 410.71 587.45 410.71 598.09 410.71 C 608.74 410.71 614.07 410.71 624.71 410.71 C 635.36 410.71 640.69 410.71 651.33 410.71 C 661.98 410.71 667.30 410.71 677.95 410.71 C 688.60 410.71 693.92 410.71 704.57 410.71 C 715.22 410.71 731.19 410.71 731.19 410.71" fill="none" stroke="#FF0000" stroke-width="2" stroke-linejoin="round" stroke-linecap="round"/>
<path d="M 65.71 413.00 L 69.71 417.00 L 65.71 421.00 L 61.71 417.00 Z" fill="#FF0000"/>
<path d="M 92.33 413.00 L 96.33 417.00 L 92.33 421.00 L 88.33 417.00 Z" fill="#FF0000"/>
<path d="M 118.95 413.00 L 122.95 417.00 L 118.95 421.00 L 114.95 417.00 Z" fill="#FF0000"/>
<path d="M 145.57 410.90 L 149.57 414.90 L 145.57 418.90 L 141.57 414.90 Z" fill="#FF0000"/>
<path d="M 172.19 410.90 L 176.19 414.90 L 172.19 418.90 L 168.19 414.90 Z" fill="#FF0000"/>
<path d="M 198.81 410.90 L 202.81 414.90 L 198.81 418.90 L 194.81 414.90 Z" fill="#FF0000"/>
<path d="M 225.43 410.90 L 229.43 414.90 L 225.43 418.90 L 221.43 414.90 Z" fill="#FF0000"/>
<path d="M 252.04 408.81 L 256.04 412.81 L 252.04 416.81 L 248.04 412.81 Z" fill="#FF0000"/>
<path d="M 278.66 408.81 L 282.66 412.81 L 278.66 416.81 L 274.66 412.81 Z" fill="#FF0000"/>
<path d="M 305.28 408.81 L 309.28 412.81 L 305.28 416.81 L 301.28 412.81 Z" fill="#FF0000"/>
<path d="M 331.90 406.71 L 335.90 410.71 L 331.90 414.71 L 327.90 410.71 Z" fill="#FF0000"/>
<path d="M 358.52 406.71 L 362.52 410.71 L 358.52 414.71 L 354.52 410.71 Z" fill="#FF0000"/>
<path d="M 385.14 406.71 L 389.14 410.71 L 385.14 414.71 L 381.14 410.71 Z" fill="#FF0000"/>
<path d="M 411.76 406.71 L 415.76 410.71 L 411.76 414.71 L 407.76 410.71 Z" fill="#FF0000"/>
<path d="M 438.38 406.71 L 442.38 410.71 L 438.38 414.71 L 434.38 410.71 Z" fill="#FF0000"/>
<path d="M 465.00 406.71 L 469.00 410.71 L 465.00 414.71 L 461.00 410.71 Z" fill="#FF0000"/>
<path d="M 491.62 406.71 L 495.62 410.71 L 491.62 414.71 L 487.62 410.71 Z" fill="#FF0000"/>
<path d="M 518.24 406.71 L 522.24 410.71 L 518.24 414.71 L 514.24 410.71 Z" fill="#FF0000"/>
<path d="M 544.86 406.71 L 548.86 410.71 L 544.86 414.71 L 540.86 410.71 Z" fill="#FF0000"/>
<path d="M 571.48 406.71 L 575.48 410.71 L 571.48 414.71 L 567.48 410.71 Z" fill="#FF0000"/>
<path d="M 598.09 406.71 L 602.09 410.71 L 598.09 414.71 L 594.09 410.71 Z" fill="#FF0000"/>
<path d="M 624.71 406.71 L 628.71 410.71 L 624.71 414.71 L 620.71 410.71 Z" fill="#FF0000"/>
<path d="M 651.33 406.71 L 655.33 410.71 L 651.33 414.71 L 647.33 410.71 Z" fill="#FF0000"/>
<path d="M 677.95 406.71 L 681.95 410.71 L 677.95 414.71 L 673.95 410.71 Z" fill="#FF0000"/>
<path d="M 704.57 406.71 L 708.57 410.71 L 704.57 414.71 L 700.57 410.71 Z" fill="#FF0000"/>
<path d="M 731.19 406.71 L 735.19 410.71 L 731.19 414.71 L 727.19 410.71 Z" fill="#FF0000"/>
</g>
<g><path d="M 65.71 421.20 C 65.71 421.20 81.68 421.20 92.33 421.20 C 102.98 421.20 108.30 421.20 118.95 421.20 C 129.60 421.20 134.92 421.20 145.57 421.20 C 156.22 421.20 161.54 421.20 172.19 421.20 C 182.83 421.20 188.16 421.20 198.81 421.20 C 209.45 421.20 214.78 421.20 225.43 421.20 C 236.07 421.20 241.40 421.20 252.04 421.20 C 262.69 421.20 268.02 421.20 278.66 421.20 C 289.31 421.20 294.64 421.20 305.28 421.20 C 315.93 421.20 321.25 421.20 331.90 421.20 C 342.55 421.20 347.87 421.20 358.52 421.20 C 369.17 421.20 374.49 421.20 385.14 421.20 C 395.79 421.20 401.11 421.20 411.76 421.20 C 422.41 421.20 427.73 421.20 438.38 421.20 C 449.03 421.20 454.35 421.20 465.00 421.20 C 475.65 421.20 480.97 421.20 491.62 421.20 C 502.26 421.20 507.59 421.20 518.24 421.20 C 528.88 421.20 534.21 421.20 544.86 421.20 C 555.50 421.20 560.83 421.20 571.48 421.20 C 582.12 421.20 587.45 421.20 598.09 421.20 C 608.74 421.20 614.07 421.20 624.71 421.20 C 635.36 421.20 640.69 421.20 651.33 421.20 C 661.98 421.20 667.30 421.20 677.95 421.20 C 688.60 421.20 693.92 421.20 704.57 421.20 C 715.22 421.20 731.19 421.20 731.19 421.20" fill="none" stroke="#FFD700" stroke-width="2" stroke-linejoin="round" stroke-linecap="round"/>
<rect x="61.71" y="417.20" width="8" height="8" fill="#FFD700"/>
<rect x="88.33" y="417.20" width="8" height="8" fill="#FFD700"/>
<rect x="114.95" y="417.20" width="8" height="8" fill="#FFD700"/>
<rect x="141.57" y="417.20" width="8" height="8" fill="#FFD700"/>
<rect x="168.19" y="417.20" width="8" height="8" fill="#FFD700"/>
<rect x="194.81" y="417.20" width="8" height="8" fill="#FFD700"/>
<rect x="221.43" y="417.20" width="8" height="8" fill="#FFD700"/>
<rect x="248.04" y="417.20" width="8" height="8" fill="#FFD700"/>
<rect x="274.66" y="417.20" width="8" height="8" fill="#FFD700"/>
<rect x="301.28" y="417.20" width="8" height="8" fill="#FFD700"/>
<rect x="327.90" y="417.20" width="8" height="8" fill="#FFD700"/>
<rect x="354.52" y="417.20" width="8" height="8" fill="#FFD700"/>
<rect x="381.14" y="417.20" width="8" height="8" fill="#FFD700"/>
<rect x="407.76" y="417.20" width="8" height="8" fill="#FFD700"/>
<rect x="434.38" y="417.20" width="8" height="8" fill="#FFD700"/>
<rect x="461.00" y="417.20" width="8" height="8" fill="#FFD700"/>
<rect x="487.62" y="417.20" width="8" height="8" fill="#FFD700"/>
<rect x="514.24" y="417.20" width="8" height="8" fill="#FFD700"/>
<rect x="540.86" y="417.20" width="8" height="8" fill="#FFD700"/>
<rect x="567.48" y="417.20" width="8" height="8" fill="#FFD700"/>
<rect x="594.09" y="417.20" width="8" height="8" fill="#FFD700"/>
<rect x="620.71" y="417.20" width="8" height="8" fill="#FFD700"/>
<rect x="647.33" y="417.20" width="8" height="8" fill="#FFD700"/>
<rect x="673.95" y="417.20" width="8" height="8" fill="#FFD700"/>
<rect x="700.57" y="417.20" width="8" height="8" fill="#FFD700"/>
<rect x="727.19" y="417.20" width="8" height="8" fill="#FFD700"/>
</g>
<g><path d="M 65.71 423.30 C 65.71 423.30 81.68 423.30 92.33 423.30 C 102.98 423.30 108.30 423.30 118.95 423.30 C 129.60 423.30 134.92 423.30 145.57 423.30 C 156.22 423.30 161.54 423.30 172.19 423.30 C 182.83 423.30 188.16 421.20 198.81 421.20 C 209.45 421.20 214.78 421.20 225.43 421.20 C 236.07 421.20 241.40 421.20 252.04 421.20 C 262.69 421.20 268.02 421.20 278.66 421.20 C 289.31 421.20 294.64 421.20 305.28 421.20 C 315.93 421.20 321.25 421.20 331.90 421.20 C 342.55 421.20 347.87 421.20 358.52 421.20 C 369.17 421.20 374.49 421.20 385.14 421.20 C 395.79 421.20 401.11 421.20 411.76 421.20 C 422.41 421.20 427.73 421.20 438.38 421.20 C 449.03 421.20 454.35 421.20 465.00 421.20 C 475.65 421.20 480.97 421.20 491.62 421.20 C 502.26 421.20 507.59 421.20 518.24 421.20 C 528.88 421.20 534.21 421.20 544.86 421.20 C 555.50 421.20 560.83 421.20 571.48 421.20 C 582.12 421.20 587.45 421.20 598.09 421.20 C 608.74 421.20 614.07 421.20 624.71 421.20 C 635.36 421.20 640.69 421.20 651.33 421.20 C 661.98 421.20 667.30 421.20 677.95 421.20 C 688.60 421.20 693.92 421.20 704.57 421.20 C 715.22 421.20 731.19 421.20 731.19 421.20" fill="none" stroke="#228B22" stroke-width="2" stroke-linejoin="round" stroke-linecap="round"/>
<path d="M 65.71 419.30 L 69.71 427.30 L 61.71 427.30 Z" fill="#228B22"/>
<path d="M 92.33 419.30 L 96.33 427.30 L 88.33 427.30 Z" fill="#228B22"/>
<path d="M 118.95 419.30 L 122.95 427.30 L 114.95 427.30 Z" fill="#228B22"/>
<path d="M 145.57 419.30 L 149.57 427.30 L 141.57 427.30 Z" fill="#228B22"/>
<path d="M 172.19 419.30 L 176.19 427.30 L 168.19 427.30 Z" fill="#228B22"/>
<path d="M 198.81 417.20 L 202.81 425.20 L 194.81 425.20 Z" fill="#228B22"/>
<path d="M 225.43 417.20 L 229.43 425.20 L 221.43 425.20 Z" fill="#228B22"/>
<path d="M 252.04 417.20 L 256.04 425.20 L 248.04 425.20 Z" fill="#228B22"/>
<path d="M 278.66 417.20 L 282.66 425.20 L 274.66 425.20 Z" fill="#228B22"/>
<path d="M 305.28 417.20 L 309.28 425.20 L 301.28 425.20 Z" fill="#228B22"/>
<path d="M 331.90 417.20 L 335.90 425.20 L 327.90 425.20 Z" fill="#228B22"/>
<path d="M 358.52 417.20 L 362.52 425.20 L 354.52 425.20 Z" fill="#228B22"/>
<path d="M 385.14 417.20 L 389.14 425.20 L 381.14 425.20 Z" fill="#228B22"/>
<path d="M 411.76 417.20 L 415.76 425.20 L 407.76 425.20 Z" fill="#228B22"/>
<path d="M 438.38 417.20 L 442.38 425.20 L 434.38 425.20 Z" fill="#228B22"/>
<path d="M 465.00 417.20 L 469.00 425.20 L 461.00 425.20 Z" fill="#228B22"/>
<path d="M 491.62 417.20 L 495.62 425.20 L 487.62 425.20 Z" fill="#228B22"/>
<path d="M 518.24 417.20 L 522.24 425.20 L 514.24 425.20 Z" fill="#228B22"/>
<path d="M 544.86 417.20 L 548.86 425.20 L 540.86 425.20 Z" fill="#228B22"/>
<path d="M 571.48 417.20 L 575.48 425.20 L 567.48 425.20 Z" fill="#228B22"/>
<path d="M 598.09 417.20 L 602.09 425.20 L 594.09 425.20 Z" fill="#228B22"/>
<path d="M 624.71 417.20 L 628.71 425.20 L 620.71 425.20 Z" fill="#228B22"/>
<path d="M 651.33 417.20 L 655.33 425.20 L 647.33 425.20 Z" fill="#228B22"/>
<path d="M 677.95 417.20 L 681.95 425.20 L 673.95 425.20 Z" fill="#228B22"/>
<path d="M 704.57 417.20 L 708.57 425.20 L 700.57 425.20 Z" fill="#228B22"/>
<path d="M 731.19 417.20 L 735.19 425.20 L 727.19 425.20 Z" fill="#228B22"/>
</g>
<g><path d="M 65.71 421.20 C 65.71 421.20 81.68 421.20 92.33 421.20 C 102.98 421.20 108.30 421.20 118.95 421.20 C 129.60 421.20 134.92 421.20 145.57 421.20 C 156.22 421.20 161.54 419.10 172.19 419.10 C 182.83 419.10 188.16 419.10 198.81 419.10 C 209.45 419.10 214.78 419.10 225.43 419.10 C 236.07 419.10 241.40 419.10 252.04 419.10 C 262.69 419.10 268.02 419.10 278.66 419.10 C 289.31 419.10 294.64 419.10 305.28 419.10 C 315.93 419.10 321.25 419.10 331.90 419.10 C 342.55 419.10 347.87 419.10 358.52 419.10 C 369.17 419.10 374.49 419.10 385.14 419.10 C 395.79 419.10 401.11 419.10 411.76 419.10 C 422.41 419.10 427.73 419.10 438.38 419.10 C 449.03 419.10 454.35 419.10 465.00 419.10 C 475.65 419.10 480.97 419.10 491.62 419.10 C 502.26 419.10 507.59 419.10 518.24 419.10 C 528.88 419.10 534.21 419.10 544.86 419.10 C 555.50 419.10 560.83 419.10 571.48 419.10 C 582.12 419.10 587.45 419.10 598.09 419.10 C 608.74 419.10 614.07 419.10 624.71 419.10 C 635.36 419.10 640.69 419.10 651.33 419.10 C 661.98 419.10 667.30 419.10 677.95 419.10 C 688.60 419.10 693.92 419.10 704.57 419.10 C 715.22 419.10 731.19 419.10 731.19 419.10" fill="none" stroke="#FFFF00" stroke-width="2" stroke-linejoin="round" stroke-linecap="round"/>
<path d="M 61.71 417.20 L 69.71 417.20 L 65.71 425.20 Z" fill="#FFFF00"/>
<path d="M 88.33 417.20 L 96.33 417.20 L 92.33 425.20 Z" fill="#FFFF00"/>
<path d="M 114.95 417.20 L 122.95 417.20 L 118.95 425.20 Z" fill="#FFFF00"/>
<path d="M 141.57 417.20 L 149.57 417.20 L 145.57 425.20 Z" fill="#FFFF00"/>
<path d="M 168.19 415.10 L 176.19 415.10 L 172.19 423.10 Z" fill="#FFFF00"/>
<path d="M 194.81 415.10 L 202.81 415.10 L 198.81 423.10 Z" fill="#FFFF00"/>
<path d="M 221.43 415.10 L 229.43 415.10 L 225.43 423.10 Z" fill="#FFFF00"/>
<path d="M 248.04 415.10 L 256.04 415.10 L 252.04 423.10 Z" fill="#FFFF00"/>
<path d="M 274.66 415.10 L 282.66 415.10 L 278.66 423.10 Z" fill="#FFFF00"/>
<path d="M 301.28 415.10 L 309.28 415.10 L 305.28 423.10 Z" fill="#FFFF00"/>
<path d="M 327.90 415.10 L 335.90 415.10 L 331.90 423.10 Z" fill="#FFFF00"/>
<path d="M 354.52 415.10 L 362.52 415.10 L 358.52 423.10 Z" fill="#FFFF00"/>
<path d="M 381.14 415.10 L 389.14 415.10 L 385.14 423.10 Z" fill="#FFFF00"/>
<path d="M 407.76 415.10 L 415.76 415.10 L 411.76 423.10 Z" fill="#FFFF00"/>
<path d="M 434.38 415.10 L 442.38 415.10 L 438.38 423.10 Z" fill="#FFFF00"/>
<path d="M 461.00 415.10 L 469.00 415.10 L 465.00 423.10 Z" fill="#FFFF00"/>
<path d="M 487.62 415.10 L 495.62 415.10 L 491.62 423.10 Z" fill="#FFFF00"/>
<path d="M 514.24 415.10 L 522.24 415.10 L 518.24 423.10 Z" fill="#FFFF00"/>
<path d="M 540.86 415.10 L 548.86 415.10 L 544.86 423.10 Z" fill="#FFFF00"/>
<path d="M 567.48 415.10 L 575.48 415.10 L 571.48 423.10 Z" fill="#FFFF00"/>
<path d="M 594.09 415.10 L 602.09 415.10 L 598.09 423.10 Z" fill="#FFFF00"/>
<path d="M 620.71 415.10 L 628.71 415.10 L 624.71 423.10 Z" fill="#FFFF00"/>
<path d="M 647.33 415.10 L 655.33 415.10 L 651.33 423.10 Z" fill="#FFFF00"/>
<path d="M 673.95 415.10 L 681.95 415.10 L 677.95 423.10 Z" fill="#FFFF00"/>
<path d="M 700.57 415.10 L 708.57 415.10 L 704.57 423.10 Z" fill="#FFFF00"/>
<path d="M 727.19 415.10 L 735.19 415.10 L 731.19 423.10 Z" fill="#FFFF00"/>
</g>
<g><path d="M 65.71 423.30 C 65.71 423.30 81.68 423.30 92.33 423.30 C 102.98 423.30 108.30 423.30 118.95 423.30 C 129.60 423.30 134.92 423.30 145.57 423.30 C 156.22 423.30 161.54 423.30 172.19 423.30 C 182.83 423.30 188.16 423.30 198.81 423.30 C 209.45 423.30 214.78 423.30 225.43 423.30 C 236.07 423.30 241.40 421.20 252.04 421.20 C 262.69 421.20 268.02 421.20 278.66 421.20 C 289.31 421.20 294.64 421.20 305.28 421.20 C 315.93 421.20 321.25 421.20 331.90 421.20 C 342.55 421.20 347.87 421.20 358.52 421.20 C 369.17 421.20 374.49 421.20 385.14 421.20 C 395.79 421.20 401.11 421.20 411.76 421.20 C 422.41 421.20 427.73 421.20 438.38 421.20 C 449.03 421.20 454.35 421.20 465.00 421.20 C 475.65 421.20 480.97 421.20 491.62 421.20 C 502.26 421.20 507.59 421.20 518.24 421.20 C 528.88 421.20 534.21 421.20 544.86 421.20 C 555.50 421.20 560.83 421.20 571.48 421.20 C 582.12 421.20 587.45 421.20 598.09 421.20 C 608.74 421.20 614.07 421.20 624.71 421.20 C 635.36 421.20 640.69 421.20 651.33 421.20 C 661.98 421.20 667.30 421.20 677.95 421.20 C 688.60 421.20 693.92 421.20 704.57 421.20 C 715.22 421.20 731.19 421.20 731.19 421.20" fill="none" stroke="#DDA0DD" stroke-width="2" stroke-linejoin="round" stroke-linecap="round"/>
<circle cx="65.71" cy="423.30" r="4" fill="#DDA0DD"/>
<circle cx="92.33" cy="423.30" r="4" fill="#DDA0DD"/>
<circle cx="118.95" cy="423.30" r="4" fill="#DDA0DD"/>
<circle cx="145.57" cy="423.30" r="4" fill="#DDA0DD"/>
<circle cx="172.19" cy="423.30" r="4" fill="#DDA0DD"/>
<circle cx="198.81" cy="423.30" r="4" fill="#DDA0DD"/>
<circle cx="225.43" cy="423.30" r="4" fill="#DDA0DD"/>
<circle cx="252.04" cy="421.20" r="4" fill="#DDA0DD"/>
<circle cx="278.66" cy="421.20" r="4" fill="#DDA0DD"/>
<circle cx="305.28" cy="421.20" r="4" fill="#DDA0DD"/>
<circle cx="331.90" cy="421.20" r="4" fill="#DDA0DD"/>
<circle cx="358.52" cy="421.20" r="4" fill="#DDA0DD"/>
<circle cx="385.14" cy="421.20" r="4" fill="#DDA0DD"/>
<circle cx="411.76" cy="421.20" r="4" fill="#DDA0DD"/>
<circle cx="438.38" cy="421.20" r="4" fill="#DDA0DD"/>
<circle cx="465.00" cy="421.20" r="4" fill="#DDA0DD"/>
<circle cx="491.62" cy="421.20" r="4" fill="#DDA0DD"/>
<circle cx="518.24" cy="421.20" r="4" fill="#DDA0DD"/>
<circle cx="544.86" cy="421.20" r="4" fill="#DDA0DD"/>
<circle cx="571.48" cy="421.20" r="4" fill="#DDA0DD"/>
<circle cx="598.09" cy="421.20" r="4" fill="#DDA0DD"/>
<circle cx="624.71" cy="421.20" r="4" fill="#DDA0DD"/>
<circle cx="651.33" cy="421.20" r="4" fill="#DDA0DD"/>
<circle cx="677.95" cy="421.20" r="4" fill="#DDA0DD"/>
<circle cx="704.57" cy="421.20" r="4" fill="#DDA0DD"/>
<circle cx="731.19" cy="421.20" r="4" fill="#DDA0DD"/>
</g>
<g><path d="M 65.71 421.20 C 65.71 421.20 81.68 421.20 92.33 421.20 C 102.98 421.20 108.30 421.20 118.95 421.20 C 129.60 421.20 134.92 421.20 145.57 421.20 C 156.22 421.20 161.54 421.20 172.19 421.20 C 182.83 421.20 188.16 421.20 198.81 421.20 C 209.45 421.20 214.78 421.20 225.43 421.20 C 236.07 421.20 241.40 421.20 252.04 421.20 C 262.69 421.20 268.02 421.20 278.66 421.20 C 289.31 421.20 294.64 421.20 305.28 421.20 C 315.93 421.20 321.25 421.20 331.90 421.20 C 342.55 421.20 347.87 421.20 358.52 421.20 C 369.17 421.20 374.49 421.20 385.14 421.20 C 395.79 421.20 401.11 421.20 411.76 421.20 C 422.41 421.20 427.73 421.20 438.38 421.20 C 449.03 421.20 454.35 421.20 465.00 421.20 C 475.65 421.20 480.97 421.20 491.62 421.20 C 502.26 421.20 507.59 421.20 518.24 421.20 C 528.88 421.20 534.21 421.20 544.86 421.20 C 555.50 421.20 560.83 421.20 571.48 421.20 C 582.12 421.20 587.45 421.20 598.09 421.20 C 608.74 421.20 614.07 421.20 624.71 421.20 C 635.36 421.20 640.69 421.20 651.33 421.20 C 661.98 421.20 667.30 421.20 677.95 421.20 C 688.60 421.20 693.92 421.20 704.57 421.20 C 715.22 421.20 731.19 421.20 731.19 421.20" fill="none" stroke="#F5DEB3" stroke-width="2" stroke-linejoin="round" stroke-linecap="round"/>
<path d="M 65.71 417.20 L 69.71 421.20 L 65.71 425.20 L 61.71 421.20 Z" fill="#F5DEB3"/>
<path d="M 92.33 417.20 L 96.33 421.20 L 92.33 425.20 L 88.33 421.20 Z" fill="#F5DEB3"/>
<path d="M 118.95 417.20 L 122.95 421.20 L 118.95 425.20 L 114.95 421.20 Z" fill="#F5DEB3"/>
<path d="M 145.57 417.20 L 149.57 421.20 L 145.57 425.20 L 141.57 421.20 Z" fill="#F5DEB3"/>
<path d="M 172.19 417.20 L 176.19 421.20 L 172.19 425.20 L 168.19 421.20 Z" fill="#F5DEB3"/>
<path d="M 198.81 417.20 L 202.81 421.20 L 198.81 425.20 L 194.81 421.20 Z" fill="#F5DEB3"/>
<path d="M 225.43 417.20 L 229.43 421.20 L 225.43 425.20 L 221.43 421.20 Z" fill="#F5DEB3"/>
<path d="M 252.04 417.20 L 256.04 421.20 L 252.04 425.20 L 248.04 421.20 Z" fill="#F5DEB3"/>
<path d="M 278.66 417.20 L 282.66 421.20 L 278.66 425.20 L 274.66 421.20 Z" fill="#F5DEB3"/>
<path d="M 305.28 417.20 L 309.28 421.20 L 305.28 425.20 L 301.28 421.20 Z" fill="#F5DEB3"/>
<path d="M 331.90 417.20 L 335.90 421.20 L 331.90 425.20 L 327.90 421.20 Z" fill="#F5DEB3"/>
<path d="M 358.52 417.20 L 362.52 421.20 L 358.52 425.20 L 354.52 421.20 Z" fill="#F5DEB3"/>
<path d="M 385.14 417.20 L 389.14 421.20 L 385.14 425.20 L 381.14 421.20 Z" fill="#F5DEB3"/>
<path d="M 411.76 417.20 L 415.76 421.20 L 411.76 425.20 L 407.76 421.20 Z" fill="#F5DEB3"/>
<path d="M 438.38 417.20 L 442.38 421.20 L 438.38 425.20 L 434.38 421.20 Z" fill="#F5DEB3"/>
<path d="M 465.00 417.20 L 469.00 421.20 L 465.00 425.20 L 461.00 421.20 Z" fill="#F5DEB3"/>
<path d="M 491.62 417.20 L 495.62 421.20 L 491.62 425.20 L 487.62 421.20 Z" fill="#F5DEB3"/>
<path d="M 518.24 417.20 L 522.24 421.20 L 518.24 425.20 L 514.24 421.20 Z" fill="#F5DEB3"/>
<path d="M 544.86 417.20 L 548.86 421.20 L 544.86 425.20 L 540.86 421.20 Z" fill="#F5DEB3"/>
<path d="M 571.48 417.20 L 575.48 421.20 L 571.48 425.20 L 567.48 421.20 Z" fill="#F5DEB3"/>
<path d="M 598.09 417.20 L 602.09 421.20 L 598.09 425.20 L 594.09 421.20 Z" fill="#F5DEB3"/>
<path d="M 624.71 417.20 L 628.71 421.20 L 624.71 425.20 L 620.71 421.20 Z" fill="#F5DEB3"/>
<path d="M 651.33 417.20 L 655.33 421.20 L 651.33 425.20 L 647.33 421.20 Z" fill="#F5DEB3"/>
<path d="M 677.95 417.20 L 681.95 421.20 L 677.95 425.20 L 673.95 421.20 Z" fill="#F5DEB3"/>
<path d="M 704.57 417.20 L 708.57 421.20 L 704.57 425.20 L 700.57 421.20 Z" fill="#F5DEB3"/>
<path d="M 731.19 417.20 L 735.19 421.20 L 731.19 425.20 L 727.19 421.20 Z" fill="#F5DEB3"/>
</g>
<g><path d="M 65.71 421.20 C 65.71 421.20 81.68 421.20 92.33 421.20 C 102.98 421.20 108.30 421.20 118.95 421.20 C 129.60 421.20 134.92 421.20 145.57 421.20 C 156.22 421.20 161.54 421.20 172.19 421.20 C 182.83 421.20 188.16 421.20 198.81 421.20 C 209.45 421.20 214.78 421.20 225.43 421.20 C 236.07 421.20 241.40 421.20 252.04 421.20 C 262.69 421.20 268.02 421.20 278.66 421.20 C 289.31 421.20 294.64 421.20 305.28 421.20 C 315.93 421.20 321.25 421.20 331.90 421.20 C 342.55 421.20 347.87 421.20 358.52 421.20 C 369.17 421.20 374.49 421.20 385.14 421.20 C 395.79 421.20 401.11 421.20 411.76 421.20 C 422.41 421.20 427.73 421.20 438.38 421.20 C 449.03 421.20 454.35 421.20 465.00 421.20 C 475.65 421.20 480.97 421.20 491.62 421.20 C 502.26 421.20 507.59 421.20 518.24 421.20 C 528.88 421.20 534.21 421.20 544.86 421.20 C 555.50 421.20 560.83 421.20 571.48 421.20 C 582.12 421.20 587.45 421.20 598.09 421.20 C 608.74 421.20 614.07 421.20 624.71 421.20 C 635.36 421.20 640.69 421.20 651.33 421.20 C 661.98 421.20 667.30 421.20 677.95 421.20 C 688.60 421.20 693.92 421.20 704.57 421.20 C 715.22 421.20 731.19 421.20 731.19 421.20" fill="none" stroke="#FFDAB9" stroke-width="2" stroke-linejoin="round" stroke-linecap="round"/>
<rect x="61.71" y="417.20" width="8" height="8" fill="#FFDAB9"/>
<rect x="88.33" y="417.20" width="8" height="8" fill="#FFDAB9"/>
<rect x="114.95" y="417.20" width="8" height="8" fill="#FFDAB9"/>
<rect x="141.57" y="417.20" width="8" height="8" fill="#FFDAB9"/>
<rect x="168.19" y="417.20" width="8" height="8" fill="#FFDAB9"/>
<rect x="194.81" y="417.20" width="8" height="8" fill="#FFDAB9"/>
<rect x="221.43" y="417.20" width="8" height="8" fill="#FFDAB9"/>
<rect x="248.04" y="417.20" width="8" height="8" fill="#FFDAB9"/>
<rect x="274.66" y="417.20" width="8" height="8" fill="#FFDAB9"/>
<rect x="301.28" y="417.20" width="8" height="8" fill="#FFDAB9"/>
<rect x="327.90" y="417.20" width="8" height="8" fill="#FFDAB9"/>
<rect x="354.52" y="417.20" width="8" height="8" fill="#FFDAB9"/>
<rect x="381.14" y="417.20" width="8" height="8" fill="#FFDAB9"/>
<rect x="407.76" y="417.20" width="8" height="8" fill="#FFDAB9"/>
<rect x="434.38" y="417.20" width="8" height="8" fill="#FFDAB9"/>
<rect x="461.00" y="417.20" width="8" height="8" fill="#FFDAB9"/>
<rect x="487.62" y="417.20" width="8" height="8" fill="#FFDAB9"/>
<rect x="514.24" y="417.20" width="8" height="8" fill="#FFDAB9"/>
<rect x="540.86" y="417.20" width="8" height="8" fill="#FFDAB9"/>
<rect x="567.48" y="417.20" width="8" height="8" fill="#FFDAB9"/>
<rect x="594.09" y="417.20" width="8" height="8" fill="#FFDAB9"/>
<rect x="620.71" y="417.20" width="8" height="8" fill="#FFDAB9"/>
<rect x="647.33" y="417.20" width="8" height="8" fill="#FFDAB9"/>
<rect x="673.95" y="417.20" width="8" height="8" fill="#FFDAB9"/>
<rect x="700.57" y="417.20" width="8" height="8" fill="#FFDAB9"/>
<rect x="727.19" y="417.20" width="8" height="8" fill="#FFDAB9"/>
</g>
<g><path d="M 65.71 423.30 C 65.71 423.30 81.68 423.30 92.33 423.30 C 102.98 423.30 108.30 423.30 118.95 423.30 C 129.60 423.30 134.92 423.30 145.57 423.30 C 156.22 423.30 161.54 423.30 172.19 423.30 C 182.83 423.30 188.16 423.30 198.81 423.30 C 209.45 423.30 214.78 423.30 225.43 423.30 C 236.07 423.30 241.40 423.30 252.04 423.30 C 262.69 423.30 268.02 421.20 278.66 421.20 C 289.31 421.20 294.64 421.20 305.28 421.20 C 315.93 421.20 321.25 421.20 331.90 421.20 C 342.55 421.20 347.87 421.20 358.52 421.20 C 369.17 421.20 374.49 421.20 385.14 421.20 C 395.79 421.20 401.11 421.20 411.76 421.20 C 422.41 421.20 427.73 421.20 438.38 421.20 C 449.03 421.20 454.35 421.20 465.00 421.20 C 475.65 421.20 480.97 421.20 491.62 421.20 C 502.26 421.20 507.59 421.20 518.24 421.20 C 528.88 421.20 534.21 421.20 544.86 421.20 C 555.50 421.20 560.83 421.20 571.48 421.20 C 582.12 421.20 587.45 421.20 598.09 421.20 C 608.74 421.20 614.07 421.20 624.71 421.20 C 635.36 421.20 640.69 421.20 651.33 421.20 C 661.98 421.20 667.30 421.20 677.95 421.20 C 688.60 421.20 693.92 421.20 704.57 421.20 C 715.22 421.20 731.19 421.20 731.19 421.20" fill="none" stroke="#B8860B" stroke-width="2" stroke-linejoin="round" stroke-linecap="round"/>
<path d="M 65.71 419.30 L 69.71 427.30 L 61.71 427.30 Z" fill="#B8860B"/>
<path d="M 92.33 419.30 L 96.33 427.30 L 88.33 427.30 Z" fill="#B8860B"/>
<path d="M 118.95 419.30 L 122.95 427.30 L 114.95 427.30 Z" fill="#B8860B"/>
<path d="M 145.57 419.30 L 149.57 427.30 L 141.57 427.30 Z" fill="#B8860B"/>
<path d="M 172.19 419.30 L 176.19 427.30 L 168.19 427.30 Z" fill="#B8860B"/>
<path d="M 198.81 419.30 L 202.81 427.30 L 194.81 427.30 Z" fill="#B8860B"/>
<path d="M 225.43 419.30 L 229.43 427.30 L 221.43 427.30 Z" fill="#B8860B"/>
<path d="M 252.04 419.30 L 256.04 427.30 L 248.04 427.30 Z" fill="#B8860B"/>
<path d="M 278.66 417.20 L 282.66 425.20 L 274.66 425.20 Z" fill="#B8860B"/>
<path d="M 305.28 417.20 L 309.28 425.20 L 301.28 425.20 Z" fill="#B8860B"/>
<path d="M 331.90 417.20 L 335.90 425.20 L 327.90 425.20 Z" fill="#B8860B"/>
<path d="M 358.52 417.20 L 362.52 425.20 L 354.52 425.20 Z" fill="#B8860B"/>
<path d="M 385.14 417.20 L 389.14 425.20 L 381.14 425.20 Z" fill="#B8860B"/>
<path d="M 411.76 417.20 L 415.76 425.20 L 407.76 425.20 Z" fill="#B8860B"/>
<path d="M 438.38 417.20 L 442.38 425.20 L 434.38 425.20 Z" fill="#B8860B"/>
<path d="M 465.00 417.20 L 469.00 425.20 L 461.00 425.20 Z" fill="#B8860B"/>
<path d="M 491.62 417.20 L 495.62 425.20 L 487.62 425.20 Z" fill="#B8860B"/>
<path d="M 518.24 417.20 L 522.24 425.20 L 514.24 425.20 Z" fill="#B8860B"/>
<path d="M 544.86 417.20 L 548.86 425.20 L 540.86 425.20 Z" fill="#B8860B"/>
<path d="M 571.48 417.20 L 575.48 425.20 L 567.48 425.20 Z" fill="#B8860B"/>
<path d="M 598.09 417.20 L 602.09 425.20 L 594.09 425.20 Z" fill="#B8860B"/>
<path d="M 624.71 417.20 L 628.71 425.20 L 620.71 425.20 Z" fill="#B8860B"/>
<path d="M 651.33 417.20 L 655.33 425.20 L 647.33 425.20 Z" fill="#B8860B"/>
<path d="M 677.95 417.20 L 681.95 425.20 L 673.95 425.20 Z" fill="#B8860B"/>
<path d="M 704.57 417.20 L 708.57 425.20 L 700.57 425.20 Z" fill="#B8860B"/>
<path d="M 731.19 417.20 L 735.19 425.20 L 727.19 425.20 Z" fill="#B8860B"/>
</g>
<g>
<path d="M 301.28 415.10 L 309.28 415.10 L 305.28 423.10 Z" fill="#000000"/>
<path d="M 327.90 415.10 L 335.90 415.10 L 331.90 423.10 Z" fill="#000000"/>
<path d="M 354.52 415.10 L 362.52 415.10 L 358.52 423.10 Z" fill="#000000"/>
<path d="M 381.14 415.10 L 389.14 415.10 L 385.14 423.10 Z" fill="#000000"/>
<path d="M 407.76 415.10 L 415.76 415.10 L 411.76 423.10 Z" fill="#000000"/>
<path d="M 434.38 415.10 L 442.38 415.10 L 438.38 423.10 Z" fill="#000000"/>
<path d="M 461.00 415.10 L 469.00 415.10 L 465.00 423.10 Z" fill="#000000"/>
<path d="M 487.62 415.10 L 495.62 415.10 L 491.62 423.10 Z" fill="#000000"/>
<path d="M 514.24 415.10 L 522.24 415.10 L 518.24 423.10 Z" fill="#000000"/>
<path d="M 540.86 415.10 L 548.86 415.10 L 544.86 423.10 Z" fill="#000000"/>
<path d="M 567.48 415.10 L 575.48 415.10 L 571.48 423.10 Z" fill="#000000"/>
<path d="M 594.09 415.10 L 602.09 415.10 L 598.09 423.10 Z" fill="#000000"/>
<path d="M 620.71 415.10 L 628.71 415.10 L 624.71 423.10 Z" fill="#000000"/>
<path d="M 647.33 415.10 L 655.33 415.10 L 651.33 423.10 Z" fill="#000000"/>
<path d="M 673.95 415.10 L 681.95 415.10 L 677.95 423.10 Z" fill="#000000"/>
<path d="M 700.57 415.10 L 708.57 415.10 L 704.57 423.10 Z" fill="#000000"/>
<path d="M 727.19 415.10 L 735.19 415.10 L 731.19 423.10 Z" fill="#000000"/>
</g>
<g><path d="M 65.71 423.30 C 65.71 423.30 81.68 423.30 92.33 423.30 C 102.98 423.30 108.30 423.30 118.95 423.30 C 129.60 423.30 134.92 423.30 145.57 423.30 C 156.22 423.30 161.54 423.30 172.19 423.30 C 182.83 423.30 188.16 423.30 198.81 423.30 C 209.45 423.30 214.78 421.20 225.43 421.20 C 236.07 421.20 241.40 421.20 252.04 421.20 C 262.69 421.20 268.02 421.20 278.66 421.20 C 289.31 421.20 294.64 421.20 305.28 421.20 C 315.93 421.20 321.25 421.20 331.90 421.20 C 342.55 421.20 347.87 421.20 358.52 421.20 C 369.17 421.20 374.49 421.20 385.14 421.20 C 395.79 421.20 401.11 421.20 411.76 421.20 C 422.41 421.20 427.73 421.20 438.38 421.20 C 449.03 421.20 454.35 421.20 465.00 421.20 C 475.65 421.20 480.97 421.20 491.62 421.20 C 502.26 421.20 507.59 421.20 518.24 421.20 C 528.88 421.20 534.21 421.20 544.86 421.20 C 555.50 421.20 560.83 421.20 571.48 421.20 C 582.12 421.20 587.45 421.20 598.09 421.20 C 608.74 421.20 614.07 421.20 624.71 421.20 C 635.36 421.20 640.69 421.20 651.33 421.20 C 661.98 421.20 667.30 421.20 677.95 421.20 C 688.60 421.20 693.92 421.20 704.57 421.20 C 715.22 421.20 731.19 421.20 731.19 421.20" fill="none" stroke="#000080" stroke-width="2" stroke-linejoin="round" stroke-linecap="round"/>
<circle cx="65.71" cy="423.30" r="4" fill="#000080"/>
<circle cx="92.33" cy="423.30" r="4" fill="#000080"/>
<circle cx="118.95" cy="423.30" r="4" fill="#000080"/>
<circle cx="145.57" cy="423.30" r="4" fill="#000080"/>
<circle cx="172.19" cy="423.30" r="4" fill="#000080"/>
<circle cx="198.81" cy="423.30" r="4" fill="#000080"/>
<circle cx="225.43" cy="421.20" r="4" fill="#000080"/>
<circle cx="252.04" cy="421.20" r="4" fill="#000080"/>
<circle cx="278.66" cy="421.20" r="4" fill="#000080"/>
<circle cx="305.28" cy="421.20" r="4" fill="#000080"/>
<circle cx="331.90" cy="421.20" r="4" fill="#000080"/>
<circle cx="358.52" cy="421.20" r="4" fill="#000080"/>
<circle cx="385.14" cy="421.20" r="4" fill="#000080"/>
<circle cx="411.76" cy="421.20" r="4" fill="#000080"/>
<circle cx="438.38" cy="421.20" r="4" fill="#000080"/>
<circle cx="465.00" cy="421.20" r="4" fill="#000080"/>
<circle cx="491.62" cy="421.20" r="4" fill="#000080"/>
<circle cx="518.24" cy="421.20" r="4" fill="#000080"/>
<circle cx="544.86" cy="421.20" r="4" fill="#000080"/>
<circle cx="571.48" cy="421.20" r="4" fill="#000080"/>
<circle cx="598.09" cy="421.20" r="4" fill="#000080"/>
<circle cx="624.71" cy="421.20" r="4" fill="#000080"/>
<circle cx="651.33" cy="421.20" r="4" fill="#000080"/>
<circle cx="677.95" cy="421.20" r="4" fill="#000080"/>
<circle cx="704.57" cy="421.20" r="4" fill="#000080"/>
<circle cx="731.19" cy="421.20" r="4" fill="#000080"/>
</g>
<g><path d="M 65.71 423.30 C 65.71 423.30 81.68 423.30 92.33 423.30 C 102.98 423.30 108.30 423.30 118.95 423.30 C 129.60 423.30 134.92 423.30 145.57 423.30 C 156.22 423.30 161.54 423.30 172.19 423.30 C 182.83 423.30 188.16 423.30 198.81 423.30 C 209.45 423.30 214.78 423.30 225.43 423.30 C 236.07 423.30 241.40 423.30 252.04 423.30 C 262.69 423.30 268.02 423.30 278.66 423.30 C 289.31 423.30 294.64 423.30 305.28 423.30 C 315.93 423.30 321.25 423.30 331.90 423.30 C 342.55 423.30 347.87 423.30 358.52 423.30 C 369.17 423.30 374.49 421.20 385.14 421.20 C 395.79 421.20 401.11 421.20 411.76 421.20 C 422.41 421.20 427.73 421.20 438.38 421.20 C 449.03 421.20 454.35 421.20 465.00 421.20 C 475.65 421.20 480.97 421.20 491.62 421.20 C 502.26 421.20 507.59 421.20 518.24 421.20 C 528.88 421.20 534.21 421.20 544.86 421.20 C 555.50 421.20 560.83 421.20 571.48 421.20 C 582.12 421.20 587.45 421.20 598.09 421.20 C 608.74 421.20 614.07 421.20 624.71 421.20 C 635.36 421.20 640.69 421.20 651.33 421.20 C 661.98 421.20 667.30 421.20 677.95 421.20 C 688.60 421.20 693.92 421.20 704.57 421.20 C 715.22 421.20 731.19 421.20 731.19 421.20" fill="none" stroke="#006400" stroke-width="2" stroke-linejoin="round" stroke-linecap="round"/>
<path d="M 65.71 419.30 L 69.71 423.30 L 65.71 427.30 L 61.71 423.30 Z" fill="#006400"/>
<path d="M 92.33 419.30 L 96.33 423.30 L 92.33 427.30 L 88.33 423.30 Z" fill="#006400"/>
<path d="M 118.95 419.30 L 122.95 423.30 L 118.95 427.30 L 114.95 423.30 Z" fill="#006400"/>
<path d="M 145.57 419.30 L 149.57 423.30 L 145.57 427.30 L 141.57 423.30 Z" fill="#006400"/>
<path d="M 172.19 419.30 L 176.19 423.30 L 172.19 427.30 L 168.19 423.30 Z" fill="#006400"/>
<path d="M 198.81 419.30 L 202.81 423.30 L 198.81 427.30 L 194.81 423.30 Z" fill="#006400"/>
<path d="M 225.43 419.30 L 229.43 423.30 L 225.43 427.30 L 221.43 423.30 Z" fill="#006400"/>
<path d="M 252.04 419.30 L 256.04 423.30 L 252.04 427.30 L 248.04 423.30 Z" fill="#006400"/>
<path d="M 278.66 419.30 L 282.66 423.30 L 278.66 427.30 L 274.66 423.30 Z" fill="#006400"/>
<path d="M 305.28 419.30 L 309.28 423.30 L 305.28 427.30 L 301.28 423.30 Z" fill="#006400"/>
<path d="M 331.90 419.30 L 335.90 423.30 L 331.90 427.30 L 327.90 423.30 Z" fill="#006400"/>
<path d="M 358.52 419.30 L 362.52 423.30 L 358.52 427.30 L 354.52 423.30 Z" fill="#006400"/>
<path d="M 385.14 417.20 L 389.14 421.20 L 385.14 425.20 L 381.14 421.20 Z" fill="#006400"/>
<path d="M 411.76 417.20 L 415.76 421.20 L 411.76 425.20 L 407.76 421.20 Z" fill="#006400"/>
<path d="M 438.38 417.20 L 442.38 421.20 L 438.38 425.20 L 434.38 421.20 Z" fill="#006400"/>
<path d="M 465.00 417.20 L 469.00 421.20 L 465.00 425.20 L 461.00 421.20 Z" fill="#006400"/>
<path d="M 491.62 417.20 L 495.62 421.20 L 491.62 425.20 L 487.62 421.20 Z" fill="#006400"/>
<path d="M 518.24 417.20 L 522.24 421.20 L 518.24 425.20 L 514.24 421.20 Z" fill="#006400"/>
<path d="M 544.86 417.20 L 548.86 421.20 L 544.86 425.20 L 540.86 421.20 Z" fill="#006400"/>
<path d="M 571.48 417.20 L 575.48 421.20 L 571.48 425.20 L 567.48 421.20 Z" fill="#006400"/>
<path d="M 598.09 417.20 L 602.09 421.20 L 598.09 425.20 L 594.09 421.20 Z" fill="#006400"/>
<path d="M 624.71 417.20 L 628.71 421.20 L 624.71 425.20 L 620.71 421.20 Z" fill="#006400"/>
<path d="M 651.33 417.20 L 655.33 421.20 L 651.33 425.20 L 647.33 421.20 Z" fill="#006400"/>
<path d="M 677.95 417.20 L 681.95 421.20 L 677.95 425.20 L 673.95 421.20 Z" fill="#006400"/>
<path d="M 704.57 417.20 L 708.57 421.20 L 704.57 425.20 L 700.57 421.20 Z" fill="#006400"/>
<path d="M 731.19 417.20 L 735.19 421.20 L 731.19 425.20 L 727.19 421.20 Z" fill="#006400"/>
</g>
<g><path d="M 65.71 423.30 C 65.71 423.30 81.68 423.30 92.33 423.30 C 102.98 423.30 108.30 423.30 118.95 423.30 C 129.60 423.30 134.92 423.30 145.57 423.30 C 156.22 423.30 161.54 423.30 172.19 423.30 C 182.83 423.30 188.16 423.30 198.81 423.30 C 209.45 423.30 214.78 423.30 225.43 423.30 C 236.07 423.30 241.40 423.30 252.04 423.30 C 262.69 423.30 268.02 423.30 278.66 423.30 C 289.31 423.30 294.64 421.20 305.28 421.20 C 315.93 421.20 321.25 421.20 331.90 421.20 C 342.55 421.20 347.87 421.20 358.52 421.20 C 369.17 421.20 374.49 421.20 385.14 421.20 C 395.79 421.20 401.11 421.20 411.76 421.20 C 422.41 421.20 427.73 421.20 438.38 421.20 C 449.03 421.20 454.35 421.20 465.00 421.20 C 475.65 421.20 480.97 421.20 491.62 421.20 C 502.26 421.20 507.59 421.20 518.24 421.20 C 528.88 421.20 534.21 421.20 544.86 421.20 C 555.50 421.20 560.83 421.20 571.48 421.20 C 582.12 421.20 587.45 421.20 598.09 421.20 C 608.74 421.20 614.07 421.20 624.71 421.20 C 635.36 421.20 640.69 421.20 651.33 421.20 C 661.98 421.20 667.30 421.20 677.95 421.20 C 688.60 421.20 693.92 421.20 704.57 421.20 C 715.22 421.20 731.19 421.20 731.19 421.20" fill="none" stroke="#9370DB" stroke-width="2" stroke-linejoin="round" stroke-linecap="round"/>
<rect x="61.71" y="419.30" width="8" height="8" fill="#9370DB"/>
<rect x="88.33" y="419.30" width="8" height="8" fill="#9370DB"/>
<rect x="114.95" y="419.30" width="8" height="8" fill="#9370DB"/>
<rect x="141.57" y="419.30" width="8" height="8" fill="#9370DB"/>
<rect x="168.19" y="419.30" width="8" height="8" fill="#9370DB"/>
<rect x="194.81" y="419.30" width="8" height="8" fill="#9370DB"/>
<rect x="221.43" y="419.30" width="8" height="8" fill="#9370DB"/>
<rect x="248.04" y="419.30" width="8" height="8" fill="#9370DB"/>
<rect x="274.66" y="419.30" width="8" height="8" fill="#9370DB"/>
<rect x="301.28" y="417.20" width="8" height="8" fill="#9370DB"/>
<rect x="327.90" y="417.20" width="8" height="8" fill="#9370DB"/>
<rect x="354.52" y="417.20" width="8" height="8" fill="#9370DB"/>
<rect x="381.14" y="417.20" width="8" height="8" fill="#9370DB"/>
<rect x="407.76" y="417.20" width="8" height="8" fill="#9370DB"/>
<rect x="434.38" y="417.20" width="8" height="8" fill="#9370DB"/>
<rect x="461.00" y="417.20" width="8" height="8" fill="#9370DB"/>
<rect x="487.62" y="417.20" width="8" height="8" fill="#9370DB"/>
<rect x="514.24" y="417.20" width="8" height="8" fill="#9370DB"/>
<rect x="540.86" y="417.20" width="8" height="8" fill="#9370DB"/>
<rect x="567.48" y="417.20" width="8" height="8" fill="#9370DB"/>
<rect x="594.09" y="417.20" width="8" height="8" fill="#9370DB"/>
<rect x="620.71" y="417.20" width="8" height="8" fill="#9370DB"/>
<rect x="647.33" y="417.20" width="8" height="8" fill="#9370DB"/>
<rect x="673.95" y="417.20" width="8" height="8" fill="#9370DB"/>
<rect x="700.57" y="417.20" width="8" height="8" fill="#9370DB"/>
<rect x="727.19" y="417.20" width="8" height="8" fill="#9370DB"/>
</g>
<g><path d="M 65.71 423.30 C 65.71 423.30 81.68 423.30 92.33 423.30 C 102.98 423.30 108.30 423.30 118.95 423.30 C 129.60 423.30 134.92 423.30 145.57 423.30 C 156.22 423.30 161.54 423.30 172.19 423.30 C 182.83 423.30 188.16 421.20 198.81 421.20 C 209.45 421.20 214.78 421.20 225.43 421.20 C 236.07 421.20 241.40 421.20 252.04 421.20 C 262.69 421.20 268.02 421.20 278.66 421.20 C 289.31 421.20 294.64 421.20 305.28 421.20 C 315.93 421.20 321.25 421.20 331.90 421.20 C 342.55 421.20 347.87 421.20 358.52 421.20 C 369.17 421.20 374.49 421.20 385.14 421.20 C 395.79 421.20 401.11 421.20 411.76 421.20 C 422.41 421.20 427.73 421.20 438.38 421.20 C 449.03 421.20 454.35 421.20 465.00 421.20 C 475.65 421.20 480.97 421.20 491.62 421.20 C 502.26 421.20 507.59 421.20 518.24 421.20 C 528.88 421.20 534.21 421.20 544.86 421.20 C 555.50 421.20 560.83 421.20 571.48 421.20 C 582.12 421.20 587.45 421.20 598.09 421.20 C 608.74 421.20 614.07 421.20 624.71 421.20 C 635.36 421.20 640.69 421.20 651.33 421.20 C 661.98 421.20 667.30 421.20 677.95 421.20 C 688.60 421.20 693.92 421.20 704.57 421.20 C 715.22 421.20 731.19 421.20 731.19 421.20" fill="none" stroke="#F0E68C" stroke-width="2" stroke-linejoin="round" stroke-linecap="round"/>
<path d="M 65.71 419.30 L 69.71 427.30 L 61.71 427.30 Z" fill="#F0E68C"/>
<path d="M 92.33 419.30 L 96.33 427.30 L 88.33 427.30 Z" fill="#F0E68C"/>
<path d="M 118.95 419.30 L 122.95 427.30 L 114.95 427.30 Z" fill="#F0E68C"/>
<path d="M 145.57 419.30 L 149.57 427.30 L 141.57 427.30 Z" fill="#F0E68C"/>
<path d="M 172.19 419.30 L 176.19 427.30 L 168.19 427.30 Z" fill="#F0E68C"/>
<path d="M 198.81 417.20 L 202.81 425.20 L 194.81 425.20 Z" fill="#F0E68C"/>
<path d="M 225.43 417.20 L 229.43 425.20 L 221.43 425.20 Z" fill="#F0E68C"/>
<path d="M 252.04 417.20 L 256.04 425.20 L 248.04 425.20 Z" fill="#F0E68C"/>
<path d="M 278.66 417.20 L 282.66 425.20 L 274.66 425.20 Z" fill="#F0E68C"/>
<path d="M 305.28 417.20 L 309.28 425.20 L 301.28 425.20 Z" fill="#F0E68C"/>
<path d="M 331.90 417.20 L 335.90 425.20 L 327.90 425.20 Z" fill="#F0E68C"/>
<path d="M 358.52 417.20 L 362.52 425.20 L 354.52 425.20 Z" fill="#F0E68C"/>
<path d="M 385.14 417.20 L 389.14 425.20 L 381.14 425.20 Z" fill="#F0E68C"/>
<path d="M 411.76 417.20 L 415.76 425.20 L 407.76 425.20 Z" fill="#F0E68C"/>
<path d="M 438.38 417.20 L 442.38 425.20 L 434.38 425.20 Z" fill="#F0E68C"/>
<path d="M 465.00 417.20 L 469.00 425.20 L 461.00 425.20 Z" fill="#F0E68C"/>
<path d="M 491.62 417.20 L 495.62 425.20 L 487.62 425.20 Z" fill="#F0E68C"/>
<path d="M 518.24 417.20 L 522.24 425.20 L 514.24 425.20 Z" fill="#F0E68C"/>
<path d="M 544.86 417.20 L 548.86 425.20 L 540.86 425.20 Z" fill="#F0E68C"/>
<path d="M 571.48 417.20 L 575.48 425.20 L 567.48 425.20 Z" fill="#F0E68C"/>
<path d="M 598.09 417.20 L 602.09 425.20 L 594.09 425.20 Z" fill="#F0E68C"/>
<path d="M 624.71 417.20 L 628.71 425.20 L 620.71 425.20 Z" fill="#F0E68C"/>
<path d="M 651.33 417.20 L 655.33 425.20 L 647.33 425.20 Z" fill="#F0E68C"/>
<path d="M 677.95 417.20 L 681.95 425.20 L 673.95 425.20 Z" fill="#F0E68C"/>
<path d="M 704.57 417.20 L 708.57 425.20 L 700.57 425.20 Z" fill="#F0E68C"/>
<path d="M 731.19 417.20 L 735.19 425.20 L 727.19 425.20 Z" fill="#F0E68C"/>
</g>
<g><path d="M 65.71 423.30 C 65.71 423.30 81.68 423.30 92.33 423.30 C 102.98 423.30 108.30 423.30 118.95 423.30 C 129.60 423.30 134.92 423.30 145.57 423.30 C 156.22 423.30 161.54 423.30 172.19 423.30 C 182.83 423.30 188.16 423.30 198.81 423.30 C 209.45 423.30 214.78 423.30 225.43 423.30 C 236.07 423.30 241.40 421.20 252.04 421.20 C 262.69 421.20 268.02 421.20 278.66 421.20 C 289.31 421.20 294.64 419.10 305.28 419.10 C 315.93 419.10 321.25 419.10 331.90 419.10 C 342.55 419.10 347.87 419.10 358.52 419.10 C 369.17 419.10 374.49 419.10 385.14 419.10 C 395.79 419.10 401.11 419.10 411.76 419.10 C 422.41 419.10 427.73 419.10 438.38 419.10 C 449.03 419.10 454.35 419.10 465.00 419.10 C 475.65 419.10 480.97 419.10 491.62 419.10 C 502.26 419.10 507.59 419.10 518.24 419.10 C 528.88 419.10 534.21 419.10 544.86 419.10 C 555.50 419.10 560.83 419.10 571.48 419.10 C 582.12 419.10 587.45 419.10 598.09 419.10 C 608.74 419.10 614.07 419.10 624.71 419.10 C 635.36 419.10 640.69 419.10 651.33 419.10 C 661.98 419.10 667.30 419.10 677.95 419.10 C 688.60 419.10 693.92 419.10 704.57 419.10 C 715.22 419.10 731.19 419.10 731.19 419.10" fill="none" stroke="#FFB6C1" stroke-width="2" stroke-linejoin="round" stroke-linecap="round"/>
<path d="M 61.71 419.30 L 69.71 419.30 L 65.71 427.30 Z" fill="#FFB6C1"/>
<path d="M 88.33 419.30 L 96.33 419.30 L 92.33 427.30 Z" fill="#FFB6C1"/>
<path d="M 114.95 419.30 L 122.95 419.30 L 118.95 427.30 Z" fill="#FFB6C1"/>
<path d="M 141.57 419.30 L 149.57 419.30 L 145.57 427.30 Z" fill="#FFB6C1"/>
<path d="M 168.19 419.30 L 176.19 419.30 L 172.19 427.30 Z" fill="#FFB6C1"/>
<path d="M 194.81 419.30 L 202.81 419.30 L 198.81 427.30 Z" fill="#FFB6C1"/>
<path d="M 221.43 419.30 L 229.43 419.30 L 225.43 427.30 Z" fill="#FFB6C1"/>
<path d="M 248.04 417.20 L 256.04 417.20 L 252.04 425.20 Z" fill="#FFB6C1"/>
<path d="M 274.66 417.20 L 282.66 417.20 L 278.66 425.20 Z" fill="#FFB6C1"/>
<path d="M 301.28 415.10 L 309.28 415.10 L 305.28 423.10 Z" fill="#FFB6C1"/>
<path d="M 327.90 415.10 L 335.90 415.10 L 331.90 423.10 Z" fill="#FFB6C1"/>
<path d="M 354.52 415.10 L 362.52 415.10 L 358.52 423.10 Z" fill="#FFB6C1"/>
<path d="M 381.14 415.10 L 389.14 415.10 L 385.14 423.10 Z" fill="#FFB6C1"/>
<path d="M 407.76 415.10 L 415.76 415.10 L 411.76 423.10 Z" fill="#FFB6C1"/>
<path d="M 434.38 415.10 L 442.38 415.10 L 438.38 423.10 Z" fill="#FFB6C1"/>
<path d="M 461.00 415.10 L 469.00 415.10 L 465.00 423.10 Z" fill="#FFB6C1"/>
<path d="M 487.62 415.10 L 495.62 415.10 L 491.62 423.10 Z" fill="#FFB6C1"/>
<path d="M 514.24 415.10 L 522.24 415.10 L 518.24 423.10 Z" fill="#FFB6C1"/>
<path d="M 540.86 415.10 L 548.86 415.10 L 544.86 423.10 Z" fill="#FFB6C1"/>
<path d="M 567.48 415.10 L 575.48 415.10 L 571.48 423.10 Z" fill="#FFB6C1"/>
<path d="M 594.09 415.10 L 602.09 415.10 L 598.09 423.10 Z" fill="#FFB6C1"/>
<path d="M 620.71 415.10 L 628.71 415.10 L 624.71 423.10 Z" fill="#FFB6C1"/>
<path d="M 647.33 415.10 L 655.33 415.10 L 651.33 423.10 Z" fill="#FFB6C1"/>
<path d="M 673.95 415.10 L 681.95 415.10 L 677.95 423.10 Z" fill="#FFB6C1"/>
<path d="M 700.57 415.10 L 708.57 415.10 L 704.57 423.10 Z" fill="#FFB6C1"/>
<path d="M 727.19 415.10 L 735.19 415.10 L 731.19 423.10 Z" fill="#FFB6C1"/>
</g>
<g><path d="M 65.71 423.30 C 65.71 423.30 81.68 423.30 92.33 423.30 C 102.98 423.30 108.30 423.30 118.95 423.30 C 129.60 423.30 134.92 423.30 145.57 423.30 C 156.22 423.30 161.54 423.30 172.19 423.30 C 182.83 423.30 188.16 423.30 198.81 423.30 C 209.45 423.30 214.78 423.30 225.43 423.30 C 236.07 423.30 241.40 423.30 252.04 423.30 C 262.69 423.30 268.02 423.30 278.66 423.30 C 289.31 423.30 294.64 423.30 305.28 423.30 C 315.93 423.30 321.25 421.20 331.90 421.20 C 342.55 421.20 347.87 421.20 358.52 421.20 C 369.17 421.20 374.49 421.20 385.14 421.20 C 395.79 421.20 401.11 421.20 411.76 421.20 C 422.41 421.20 427.73 421.20 438.38 421.20 C 449.03 421.20 454.35 421.20 465.00 421.20 C 475.65 421.20 480.97 421.20 491.62 421.20 C 502.26 421.20 507.59 421.20 518.24 421.20 C 528.88 421.20 534.21 421.20 544.86 421.20 C 555.50 421.20 560.83 421.20 571.48 421.20 C 582.12 421.20 587.45 421.20 598.09 421.20 C 608.74 421.20 614.07 421.20 624.71 421.20 C 635.36 421.20 640.69 421.20 651.33 421.20 C 661.98 421.20 667.30 421.20 677.95 421.20 C 688.60 421.20 693.92 421.20 704.57 421.20 C 715.22 421.20 731.19 421.20 731.19 421.20" fill="none" stroke="#00FF00" stroke-width="2" stroke-linejoin="round" stroke-linecap="round"/>
<circle cx="65.71" cy="423.30" r="4" fill="#00FF00"/>
<circle cx="92.33" cy="423.30" r="4" fill="#00FF00"/>
<circle cx="118.95" cy="423.30" r="4" fill="#00FF00"/>
<circle cx="145.57" cy="423.30" r="4" fill="#00FF00"/>
<circle cx="172.19" cy="423.30" r="4" fill="#00FF00"/>
<circle cx="198.81" cy="423.30" r="4" fill="#00FF00"/>
<circle cx="225.43" cy="423.30" r="4" fill="#00FF00"/>
<circle cx="252.04" cy="423.30" r="4" fill="#00FF00"/>
<circle cx="278.66" cy="423.30" r="4" fill="#00FF00"/>
<circle cx="305.28" cy="423.30" r="4" fill="#00FF00"/>
<circle cx="331.90" cy="421.20" r="4" fill="#00FF00"/>
<circle cx="358.52" cy="421.20" r="4" fill="#00FF00"/>
<circle cx="385.14" cy="421.20" r="4" fill="#00FF00"/>
<circle cx="411.76" cy="421.20" r="4" fill="#00FF00"/>
<circle cx="438.38" cy="421.20" r="4" fill="#00FF00"/>
<circle cx="465.00" cy="421.20" r="4" fill="#00FF00"/>
<circle cx="491.62" cy="421.20" r="4" fill="#00FF00"/>
<circle cx="518.24" cy="421.20" r="4" fill="#00FF00"/>
<circle cx="544.86" cy="421.20" r="4" fill="#00FF00"/>
<circle cx="571.48" cy="421.20" r="4" fill="#00FF00"/>
<circle cx="598.09" cy="421.20" r="4" fill="#00FF00"/>
<circle cx="624.71" cy="421.20" r="4" fill="#00FF00"/>
<circle cx="651.33" cy="421.20" r="4" fill="#00FF00"/>
<circle cx="677.95" cy="421.20" r="4" fill="#00FF00"/>
<circle cx="704.57" cy="421.20" r="4" fill="#00FF00"/>
<circle cx="731.19" cy="421.20" r="4" fill="#00FF00"/>
</g>
<g><path d="M 65.71 423.30 C 65.71 423.30 81.68 423.30 92.33 423.30 C 102.98 423.30 108.30 423.30 118.95 423.30 C 129.60 423.30 134.92 423.30 145.57 423.30 C 156.22 423.30 161.54 423.30 172.19 423.30 C 182.83 423.30 188.16 423.30 198.81 423.30 C 209.45 423.30 214.78 423.30 225.43 423.30 C 236.07 423.30 241.40 421.20 252.04 421.20 C 262.69 421.20 268.02 421.20 278.66 421.20 C 289.31 421.20 294.64 419.94 305.28 419.10 C 315.93 418.26 321.25 417.00 331.90 417.00 C 342.55 417.00 347.87 417.00 358.52 417.00 C 369.17 417.00 374.49 417.00 385.14 417.00 C 395.79 417.00 401.11 417.00 411.76 417.00 C 422.41 417.00 427.73 417.00 438.38 417.00 C 449.03 417.00 454.35 417.00 465.00 417.00 C 475.65 417.00 480.97 417.00 491.62 417.00 C 502.26 417.00 507.59 417.00 518.24 417.00 C 528.88 417.00 534.21 417.00 544.86 417.00 C 555.50 417.00 560.83 417.00 571.48 417.00 C 582.12 417.00 587.45 417.00 598.09 417.00 C 608.74 417.00 614.07 417.00 624.71 417.00 C 635.36 417.00 640.69 417.00 651.33 417.00 C 661.98 417.00 667.30 417.00 677.95 417.00 C 688.60 417.00 693.92 417.00 704.57 417.00 C 715.22 417.00 731.19 417.00 731.19 417.00" fill="none" stroke="#BDB76B" stroke-width="2" stroke-linejoin="round" stroke-linecap="round"/>
<path d="M 65.71 419.30 L 69.71 423.30 L 65.71 427.30 L 61.71 423.30 Z" fill="#BDB76B"/>
<path d="M 92.33 419.30 L 96.33 423.30 L 92.33 427.30 L 88.33 423.30 Z" fill="#BDB76B"/>
<path d="M 118.95 419.30 L 122.95 423.30 L 118.95 427.30 L 114.95 423.30 Z" fill="#BDB76B"/>
<path d="M 145.57 419.30 L 149.57 423.30 L 145.57 427.30 L 141.57 423.30 Z" fill="#BDB76B"/>
<path d="M 172.19 419.30 L 176.19 423.30 L 172.19 427.30 L 168.19 423.30 Z" fill="#BDB76B"/>
<path d="M 198.81 419.30 L 202.81 423.30 L 198.81 427.30 L 194.81 423.30 Z" fill="#BDB76B"/>
<path d="M 225.43 419.30 L 229.43 423.30 L 225.43 427.30 L 221.43 423.30 Z" fill="#BDB76B"/>
<path d="M 252.04 417.20 L 256.04 421.20 L 252.04 425.20 L 248.04 421.20 Z" fill="#BDB76B"/>
<path d="M 278.66 417.20 L 282.66 421.20 L 278.66 425.20 L 274.66 421.20 Z" fill="#BDB76B"/>
<path d="M 305.28 415.10 L 309.28 419.10 L 305.28 423.10 L 301.28 419.10 Z" fill="#BDB76B"/>
<path d="M 331.90 413.00 L 335.90 417.00 L 331.90 421.00 L 327.90 417.00 Z" fill="#BDB76B"/>
<path d="M 358.52 413.00 L 362.52 417.00 L 358.52 421.00 L 354.52 417.00 Z" fill="#BDB76B"/>
<path d="M 385.14 413.00 L 389.14 417.00 L 385.14 421.00 L 381.14 417.00 Z" fill="#BDB76B"/>
<path d="M 411.76 413.00 L 415.76 417.00 L 411.76 421.00 L 407.76 417.00 Z" fill="#BDB76B"/>
<path d="M 438.38 413.00 L 442.38 417.00 L 438.38 421.00 L 434.38 417.00 Z" fill="#BDB76B"/>
<path d="M 465.00 413.00 L 469.00 417.00 L 465.00 421.00 L 461.00 417.00 Z" fill="#BDB76B"/>
<path d="M 491.62 413.00 L 495.62 417.00 L 491.62 421.00 L 487.62 417.00 Z" fill="#BDB76B"/>
<path d="M 518.24 413.00 L 522.24 417.00 L 518.24 421.00 L 514.24 417.00 Z" fill="#BDB76B"/>
<path d="M 544.86 413.00 L 548.86 417.00 L 544.86 421.00 L 540.86 417.00 Z" fill="#BDB76B"/>
<path d="M 571.48 413.00 L 575.48 417.00 L 571.48 421.00 L 567.48 417.00 Z" fill="#BDB76B"/>
<path d="M 598.09 413.00 L 602.09 417.00 L 598.09 421.00 L 594.09 417.00 Z" fill="#BDB76B"/>
<path d="M 624.71 413.00 L 628.71 417.00 L 624.71 421.00 L 620.71 417.00 Z" fill="#BDB76B"/>
<path d="M 651.33 413.00 L 655.33 417.00 L 651.33 421.00 L 647.33 417.00 Z" fill="#BDB76B"/>
<path d="M 677.95 413.00 L 681.95 417.00 L 677.95 421.00 L 673.95 417.00 Z" fill="#BDB76B"/>
<path d="M 704.57 413.00 L 708.57 417.00 L 704.57 421.00 L 700.57 417.00 Z" fill="#BDB76B"/>
<path d="M 731.19 413.00 L 735.19 417.00 L 731.19 421.00 L 727.19 417.00 Z" fill="#BDB76B"/>
</g>
<g><path d="M 65.71 423.30 C 65.71 423.30 81.68 423.30 92.33 423.30 C 102.98 423.30 108.30 423.30 118.95 423.30 C 129.60 423.30 134.92 423.30 145.57 423.30 C 156.22 423.30 161.54 423.30 172.19 423.30 C 182.83 423.30 188.16 423.30 198.81 423.30 C 209.45 423.30 214.78 423.30 225.43 423.30 C 236.07 423.30 241.40 423.30 252.04 423.30 C 262.69 423.30 268.02 423.30 278.66 423.30 C 289.31 423.30 294.64 423.30 305.28 423.30 C 315.93 423.30 321.25 421.20 331.90 421.20 C 342.55 421.20 347.87 421.20 358.52 421.20 C 369.17 421.20 374.49 419.10 385.14 419.10 C 395.79 419.10 401.11 419.10 411.76 419.10 C 422.41 419.10 427.73 419.10 438.38 419.10 C 449.03 419.10 454.35 419.10 465.00 419.10 C 475.65 419.10 480.97 419.10 491.62 419.10 C 502.26 419.10 507.59 419.10 518.24 419.10 C 528.88 419.10 534.21 419.10 544.86 419.10 C 555.50 419.10 560.83 419.10 571.48 419.10 C 582.12 419.10 587.45 419.10 598.09 419.10 C 608.74 419.10 614.07 419.10 624.71 419.10 C 635.36 419.10 640.69 419.10 651.33 419.10 C 661.98 419.10 667.30 419.10 677.95 419.10 C 688.60 419.10 693.92 419.10 704.57 419.10 C 715.22 419.10 731.19 419.10 731.19 419.10" fill="none" stroke="#32CD32" stroke-width="2" stroke-linejoin="round" stroke-linecap="round"/>
<rect x="61.71" y="419.30" width="8" height="8" fill="#32CD32"/>
<rect x="88.33" y="419.30" width="8" height="8" fill="#32CD32"/>
<rect x="114.95" y="419.30" width="8" height="8" fill="#32CD32"/>
<rect x="141.57" y="419.30" width="8" height="8" fill="#32CD32"/>
<rect x="168.19" y="419.30" width="8" height="8" fill="#32CD32"/>
<rect x="194.81" y="419.30" width="8" height="8" fill="#32CD32"/>
<rect x="221.43" y="419.30" width="8" height="8" fill="#32CD32"/>
<rect x="248.04" y="419.30" width="8" height="8" fill="#32CD32"/>
<rect x="274.66" y="419.30" width="8" height="8" fill="#32CD32"/>
<rect x="301.28" y="419.30" width="8" height="8" fill="#32CD32"/>
<rect x="327.90" y="417.20" width="8" height="8" fill="#32CD32"/>
<rect x="354.52" y="417.20" width="8" height="8" fill="#32CD32"/>
<rect x="381.14" y="415.10" width="8" height="8" fill="#32CD32"/>
<rect x="407.76" y="415.10" width="8" height="8" fill="#32CD32"/>
<rect x="434.38" y="415.10" width="8" height="8" fill="#32CD32"/>
<rect x="461.00" y="415.10" width="8" height="8" fill="#32CD32"/>
<rect x="487.62" y="415.10" width="8" height="8" fill="#32CD32"/>
<rect x="514.24" y="415.10" width="8" height="8" fill="#32CD32"/>
<rect x="540.86" y="415.10" width="8" height="8" fill="#32CD32"/>
<rect x="567.48" y="415.10" width="8" height="8" fill="#32CD32"/>
<rect x="594.09" y="415.10" width="8" height="8" fill="#32CD32"/>
<rect x="620.71" y="415.10" width="8" height="8" fill="#32CD32"/>
<rect x="647.33" y="415.10" width="8" height="8" fill="#32CD32"/>
<rect x="673.95" y="415.10" width="8" height="8" fill="#32CD32"/>
<rect x="700.57" y="415.10" width="8" height="8" fill="#32CD32"/>
<rect x="727.19" y="415.10" width="8" height="8" fill="#32CD32"/>
</g>
<g><path d="M 65.71 423.30 C 65.71 423.30 81.68 423.30 92.33 423.30 C 102.98 423.30 108.30 423.30 118.95 423.30 C 129.60 423.30 134.92 423.30 145.57 423.30 C 156.22 423.30 161.54 423.30 172.19 423.30 C 182.83 423.30 188.16 423.30 198.81 423.30 C 209.45 423.30 214.78 423.30 225.43 423.30 C 236.07 423.30 241.40 423.30 252.04 423.30 C 262.69 423.30 268.02 421.20 278.66 421.20 C 289.31 421.20 294.64 421.20 305.28 421.20 C 315.93 421.20 321.25 421.20 331.90 421.20 C 342.55 421.20 347.87 421.20 358.52 421.20 C 369.17 421.20 374.49 421.20 385.14 421.20 C 395.79 421.20 401.11 421.20 411.76 421.20 C 422.41 421.20 427.73 421.20 438.38 421.20 C 449.03 421.20 454.35 418.26 465.00 417.00 C 475.65 415.74 480.97 414.90 491.62 414.90 C 502.26 414.90 507.59 414.90 518.24 414.90 C 528.88 414.90 534.21 414.48 544.86 412.81 C 555.50 411.13 560.83 408.19 571.48 406.51 C 582.12 404.83 587.45 405.25 598.09 404.41 C 608.74 403.57 614.07 404.41 624.71 402.31 C 635.36 400.21 640.69 393.91 651.33 391.81 C 661.98 389.72 667.30 389.72 677.95 389.72 C 688.60 389.72 693.92 389.72 704.57 389.72 C 715.22 389.72 731.19 282.67 731.19 282.67" fill="none" stroke="#6A5ACD" stroke-width="2" stroke-linejoin="round" stroke-linecap="round"/>
<path d="M 65.71 419.30 L 69.71 427.30 L 61.71 427.30 Z" fill="#6A5ACD"/>
<path d="M 92.33 419.30 L 96.33 427.30 L 88.33 427.30 Z" fill="#6A5ACD"/>
<path d="M 118.95 419.30 L 122.95 427.30 L 114.95 427.30 Z" fill="#6A5ACD"/>
<path d="M 145.57 419.30 L 149.57 427.30 L 141.57 427.30 Z" fill="#6A5ACD"/>
<path d="M 172.19 419.30 L 176.19 427.30 L 168.19 427.30 Z" fill="#6A5ACD"/>
<path d="M 198.81 419.30 L 202.81 427.30 L 194.81 427.30 Z" fill="#6A5ACD"/>
<path d="M 225.43 419.30 L 229.43 427.30 L 221.43 427.30 Z" fill="#6A5ACD"/>
<path d="M 252.04 419.30 L 256.04 427.30 L 248.04 427.30 Z" fill="#6A5ACD"/>
<path d="M 278.66 417.20 L 282.66 425.20 L 274.66 425.20 Z" fill="#6A5ACD"/>
<path d="M 305.28 417.20 L 309.28 425.20 L 301.28 425.20 Z" fill="#6A5ACD"/>
<path d="M 331.90 417.20 L 335.90 425.20 L 327.90 425.20 Z" fill="#6A5ACD"/>
<path d="M 358.52 417.20 L 362.52 425.20 L 354.52 425.20 Z" fill="#6A5ACD"/>
<path d="M 385.14 417.20 L 389.14 425.20 L 381.14 425.20 Z" fill="#6A5ACD"/>
<path d="M 411.76 417.20 L 415.76 425.20 L 407.76 425.20 Z" fill="#6A5ACD"/>
<path d="M 438.38 417.20 L 442.38 425.20 L 434.38 425.20 Z" fill="#6A5ACD"/>
<path d="M 465.00 413.00 L 469.00 421.00 L 461.00 421.00 Z" fill="#6A5ACD"/>
<path d="M 491.62 410.90 L 495.62 418.90 L 487.62 418.90 Z" fill="#6A5ACD"/>
<path d="M 518.24 410.90 L 522.24 418.90 L 514.24 418.90 Z" fill="#6A5ACD"/>
<path d="M 544.86 408.81 L 548.86 416.81 L 540.86 416.81 Z" fill="#6A5ACD"/>
<path d="M 571.48 402.51 L 575.48 410.51 L 567.48 410.51 Z" fill="#6A5ACD"/>
<path d="M 598.09 400.41 L 602.09 408.41 L 594.09 408.41 Z" fill="#6A5ACD"/>
<path d="M 624.71 398.31 L 628.71 406.31 L 620.71 406.31 Z" fill="#6A5ACD"/>
<path d="M 651.33 387.81 L 655.33 395.81 L 647.33 395.81 Z" fill="#6A5ACD"/>
<path d="M 677.95 385.72 L 681.95 393.72 L 673.95 393.72 Z" fill="#6A5ACD"/>
<path d="M 704.57 385.72 L 708.57 393.72 L 700.57 393.72 Z" fill="#6A5ACD"/>
<path d="M 731.19 278.67 L 735.19 286.67 L 727.19 286.67 Z" fill="#6A5ACD"/>
</g>
<g><path d="M 65.71 423.30 C 65.71 423.30 81.68 423.30 92.33 423.30 C 102.98 423.30 108.30 423.30 118.95 423.30 C 129.60 423.30 134.92 423.30 145.57 423.30 C 156.22 423.30 161.54 423.30 172.19 423.30 C 182.83 423.30 188.16 423.30 198.81 423.30 C 209.45 423.30 214.78 423.30 225.43 423.30 C 236.07 423.30 241.40 423.30 252.04 423.30 C 262.69 423.30 268.02 423.30 278.66 423.30 C 289.31 423.30 294.64 423.30 305.28 423.30 C 315.93 423.30 321.25 423.30 331.90 423.30 C 342.55 423.30 347.87 423.30 358.52 423.30 C 369.17 423.30 374.49 423.30 385.14 423.30 C 395.79 423.30 401.11 423.30 411.76 423.30 C 422.41 423.30 427.73 421.20 438.38 421.20 C 449.03 421.20 454.35 421.20 465.00 421.20 C 475.65 421.20 480.97 421.20 491.62 421.20 C 502.26 421.20 507.59 421.20 518.24 421.20 C 528.88 421.20 534.21 421.20 544.86 421.20 C 555.50 421.20 560.83 421.20 571.48 421.20 C 582.12 421.20 587.45 421.20 598.09 421.20 C 608.74 421.20 614.07 421.20 624.71 421.20 C 635.36 421.20 640.69 421.20 651.33 421.20 C 661.98 421.20 667.30 421.20 677.95 421.20 C 688.60 421.20 693.92 421.20 704.57 421.20 C 715.22 421.20 731.19 421.20 731.19 421.20" fill="none" stroke="#4682B4" stroke-width="2" stroke-linejoin="round" stroke-linecap="round"/>
<path d="M 61.71 419.30 L 69.71 419.30 L 65.71 427.30 Z" fill="#4682B4"/>
<path d="M 88.33 419.30 L 96.33 419.30 L 92.33 427.30 Z" fill="#4682B4"/>
<path d="M 114.95 419.30 L 122.95 419.30 L 118.95 427.30 Z" fill="#4682B4"/>
<path d="M 141.57 419.30 L 149.57 419.30 L 145.57 427.30 Z" fill="#4682B4"/>
<path d="M 168.19 419.30 L 176.19 419.30 L 172.19 427.30 Z" fill="#4682B4"/>
<path d="M 194.81 419.30 L 202.81 419.30 L 198.81 427.30 Z" fill="#4682B4"/>
<path d="M 221.43 419.30 L 229.43 419.30 L 225.43 427.30 Z" fill="#4682B4"/>
<path d="M 248.04 419.30 L 256.04 419.30 L 252.04 427.30 Z" fill="#4682B4"/>
<path d="M 274.66 419.30 L 282.66 419.30 L 278.66 427.30 Z" fill="#4682B4"/>
<path d="M 301.28 419.30 L 309.28 419.30 L 305.28 427.30 Z" fill="#4682B4"/>
<path d="M 327.90 419.30 L 335.90 419.30 L 331.90 427.30 Z" fill="#4682B4"/>
<path d="M 354.52 419.30 L 362.52 419.30 L 358.52 427.30 Z" fill="#4682B4"/>
<path d="M 381.14 419.30 L 389.14 419.30 L 385.14 427.30 Z" fill="#4682B4"/>
<path d="M 407.76 419.30 L 415.76 419.30 L 411.76 427.30 Z" fill="#4682B4"/>
<path d="M 434.38 417.20 L 442.38 417.20 L 438.38 425.20 Z" fill="#4682B4"/>
<path d="M 461.00 417.20 L 469.00 417.20 L 465.00 425.20 Z" fill="#4682B4"/>
<path d="M 487.62 417.20 L 495.62 417.20 L 491.62 425.20 Z" fill="#4682B4"/>
<path d="M 514.24 417.20 L 522.24 417.20 L 518.24 425.20 Z" fill="#4682B4"/>
<path d="M 540.86 417.20 L 548.86 417.20 L 544.86 425.20 Z" fill="#4682B4"/>
<path d="M 567.48 417.20 L 575.48 417.20 L 571.48 425.20 Z" fill="#4682B4"/>
<path d="M 594.09 417.20 L 602.09 417.20 L 598.09 425.20 Z" fill="#4682B4"/>
<path d="M 620.71 417.20 L 628.71 417.20 L 624.71 425.20 Z" fill="#4682B4"/>
<path d="M 647.33 417.20 L 655.33 417.20 L 651.33 425.20 Z" fill="#4682B4"/>
<path d="M 673.95 417.20 L 681.95 417.20 L 677.95 425.20 Z" fill="#4682B4"/>
<path d="M 700.57 417.20 L 708.57 417.20 L 704.57 425.20 Z" fill="#4682B4"/>
<path d="M 727.19 417.20 L 735.19 417.20 L 731.19 425.20 Z" fill="#4682B4"/>
</g>
<g><path d="M 65.71 423.30 C 65.71 423.30 81.68 423.30 92.33 423.30 C 102.98 423.30 108.30 423.30 118.95 423.30 C 129.60 423.30 134.92 423.30 145.57 423.30 C 156.22 423.30 161.54 423.30 172.19 423.30 C 182.83 423.30 188.16 423.30 198.81 423.30 C 209.45 423.30 214.78 423.30 225.43 423.30 C 236.07 423.30 241.40 423.30 252.04 423.30 C 262.69 423.30 268.02 423.30 278.66 423.30 C 289.31 423.30 294.64 423.30 305.28 423.30 C 315.93 423.30 321.25 423.30 331.90 423.30 C 342.55 423.30 347.87 423.30 358.52 423.30 C 369.17 423.30 374.49 423.30 385.14 423.30 C 395.79 423.30 401.11 423.30 411.76 423.30 C 422.41 423.30 427.73 423.30 438.38 423.30 C 449.03 423.30 454.35 423.30 465.00 423.30 C 475.65 423.30 480.97 423.30 491.62 423.30 C 502.26 423.30 507.59 423.30 518.24 423.30 C 528.88 423.30 534.21 423.30 544.86 423.30 C 555.50 423.30 560.83 423.30 571.48 423.30 C 582.12 423.30 587.45 423.30 598.09 423.30 C 608.74 423.30 614.07 421.20 624.71 421.20 C 635.36 421.20 640.69 421.20 651.33 421.20 C 661.98 421.20 667.30 421.20 677.95 421.20 C 688.60 421.20 693.92 421.20 704.57 421.20 C 715.22 421.20 731.19 421.20 731.19 421.20" fill="none" stroke="#DA70D6" stroke-width="2" stroke-linejoin="round" stroke-linecap="round"/>
<circle cx="65.71" cy="423.30" r="4" fill="#DA70D6"/>
<circle cx="92.33" cy="423.30" r="4" fill="#DA70D6"/>
<circle cx="118.95" cy="423.30" r="4" fill="#DA70D6"/>
<circle cx="145.57" cy="423.30" r="4" fill="#DA70D6"/>
<circle cx="172.19" cy="423.30" r="4" fill="#DA70D6"/>
<circle cx="198.81" cy="423.30" r="4" fill="#DA70D6"/>
<circle cx="225.43" cy="423.30" r="4" fill="#DA70D6"/>
<circle cx="252.04" cy="423.30" r="4" fill="#DA70D6"/>
<circle cx="278.66" cy="423.30" r="4" fill="#DA70D6"/>
<circle cx="305.28" cy="423.30" r="4" fill="#DA70D6"/>
<circle cx="331.90" cy="423.30" r="4" fill="#DA70D6"/>
<circle cx="358.52" cy="423.30" r="4" fill="#DA70D6"/>
<circle cx="385.14" cy="423.30" r="4" fill="#DA70D6"/>
<circle cx="411.76" cy="423.30" r="4" fill="#DA70D6"/>
<circle cx="438.38" cy="423.30" r="4" fill="#DA70D6"/>
<circle cx="465.00" cy="423.30" r="4" fill="#DA70D6"/>
<circle cx="491.62" cy="423.30" r="4" fill="#DA70D6"/>
<circle cx="518.24" cy="423.30" r="4" fill="#DA70D6"/>
<circle cx="544.86" cy="423.30" r="4" fill="#DA70D6"/>
<circle cx="571.48" cy="423.30" r="4" fill="#DA70D6"/>
<circle cx="598.09" cy="423.30" r="4" fill="#DA70D6"/>
<circle cx="624.71" cy="421.20" r="4" fill="#DA70D6"/>
<circle cx="651.33" cy="421.20" r="4" fill="#DA70D6"/>
<circle cx="677.95" cy="421.20" r="4" fill="#DA70D6"/>
<circle cx="704.57" cy="421.20" r="4" fill="#DA70D6"/>
<circle cx="731.19" cy="421.20" r="4" fill="#DA70D6"/>
</g>
<text x="365" y="473" font-size="13.4" font-weight="bold" fill="#999999" textLength="377" lengthAdjust="spacingAndGlyphs">数据来源：微博上海健康12320 制图&amp;数据整理：林詹詹</text>
<g fill="#ffffff" stroke="#a8a8a8" stroke-width="0.8" paint-order="stroke"><text x="584.5" y="453.5" font-size="24">知乎</text><text x="647.5" y="452.5" font-size="17">@</text><text x="668" y="453.5" font-size="22.5">林詹詹</text></g>
<rect x="750.5" y="468.5" width="1" height="1" fill="#b0b0b0"/><rect x="748.5" y="470.5" width="1" height="1" fill="#b0b0b0"/><rect x="750.5" y="470.5" width="1" height="1" fill="#b0b0b0"/><rect x="746.5" y="472.5" width="1" height="1" fill="#b0b0b0"/><rect x="748.5" y="472.5" width="1" height="1" fill="#b0b0b0"/><rect x="750.5" y="472.5" width="1" height="1" fill="#b0b0b0"/><rect x="744.5" y="474.5" width="1" height="1" fill="#b0b0b0"/><rect x="746.5" y="474.5" width="1" height="1" fill="#b0b0b0"/><rect x="748.5" y="474.5" width="1" height="1" fill="#b0b0b0"/><rect x="750.5" y="474.5" width="1" height="1" fill="#b0b0b0"/>
</svg></body></html>
